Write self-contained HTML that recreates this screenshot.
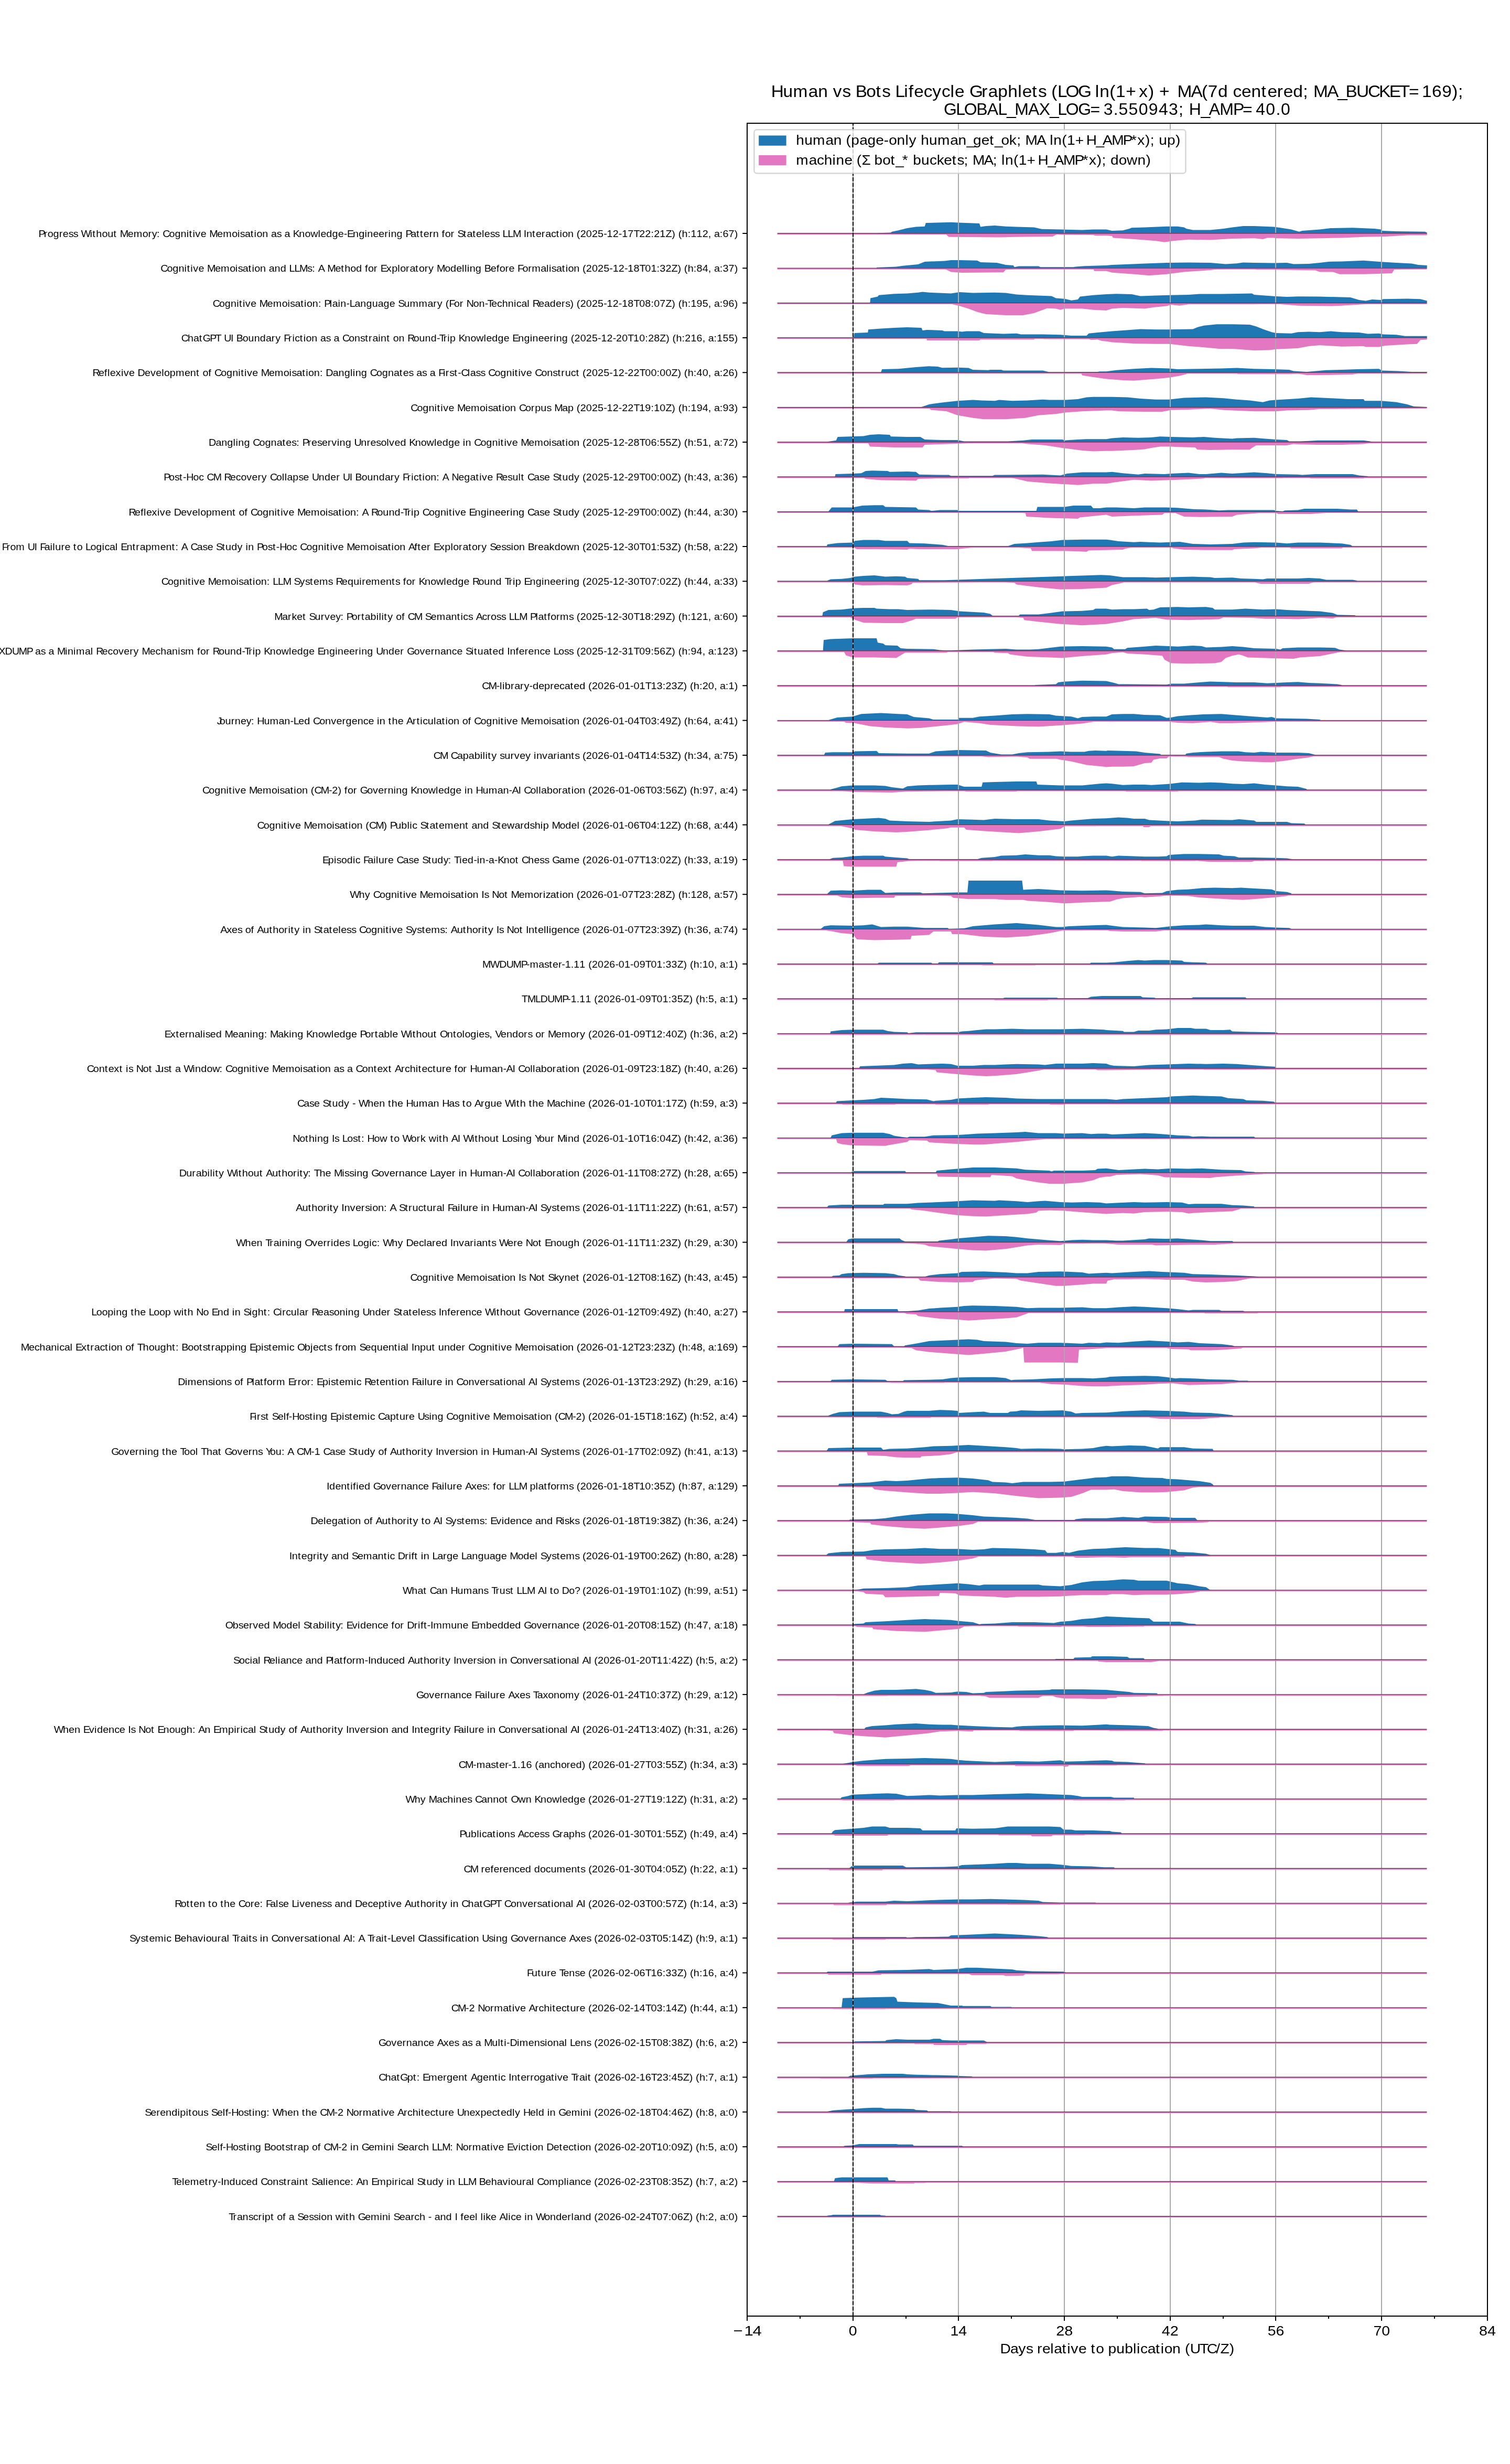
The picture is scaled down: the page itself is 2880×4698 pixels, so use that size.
<!DOCTYPE html>
<html><head><meta charset="utf-8"><title>Human vs Bots Lifecycle Graphlets</title>
<style>html,body{margin:0;padding:0;background:#fff;}svg text{-webkit-font-smoothing:antialiased;}body{width:2880px;height:4698px;overflow:hidden;font-family:"Liberation Sans",sans-serif;}svg{display:block;will-change:transform;}</style>
</head><body><svg width="2880" height="4698" viewBox="0 0 2880 4698" font-family="Liberation Sans, sans-serif"><rect width="100%" height="100%" fill="#fff"/><g><path d="M1674.0,445.0L1674.0,445.0L1674.0,444.2L1699.0,443.4L1701.1,441.7L1713.6,439.2L1730.3,435.0L1747.0,432.5L1763.7,431.7L1765.8,425.0L1813.8,423.8L1828.4,424.6L1868.0,425.9L1870.1,432.5L1880.5,430.9L1897.2,430.0L1918.1,431.7L1938.9,432.5L1972.3,433.4L1986.9,436.7L2022.4,437.5L2064.1,438.4L2085.0,437.5L2110.0,437.5L2120.9,440.1L2141.7,439.2L2154.2,435.9L2158.4,434.2L2183.4,433.4L2225.2,431.7L2246.0,431.7L2258.5,433.4L2262.7,435.9L2275.2,438.4L2308.6,438.4L2333.6,435.9L2350.3,433.4L2371.2,430.9L2392.1,430.9L2429.6,432.5L2442.1,434.2L2463.0,437.5L2477.6,441.7L2483.8,440.1L2517.2,437.5L2538.1,435.0L2579.8,434.2L2621.5,435.9L2634.0,437.5L2636.1,440.1L2663.2,440.9L2717.5,441.7L2721.7,443.4L2721.7,445.0L2721.7,445.0Z" fill="#1f77b4"/><path d="M1803.3,445.0L1803.3,445.0L1803.3,445.9L1809.6,451.7L1905.6,452.6L1938.9,451.7L2007.8,450.9L2016.1,446.7L2022.4,447.6L2085.0,448.0L2089.1,449.2L2110.0,449.2L2120.9,450.1L2123.0,453.4L2162.6,455.9L2204.3,459.2L2221.0,461.7L2237.7,459.2L2266.9,456.7L2308.6,457.6L2350.3,455.1L2392.1,454.2L2408.7,455.9L2417.1,453.4L2429.6,453.4L2433.8,454.2L2475.5,455.1L2517.2,454.2L2558.9,453.4L2600.7,451.7L2642.4,450.9L2684.1,448.4L2721.7,448.4L2721.7,445.0L2721.7,445.0Z" fill="#e377c2"/><path d="M1671.9,511.3L1671.9,511.3L1671.9,510.1L1709.5,508.5L1722.0,506.8L1751.2,503.9L1763.7,498.9L1801.3,497.6L1813.8,495.9L1830.5,495.9L1863.8,496.8L1870.1,500.1L1901.4,501.0L1918.1,505.1L1932.7,506.0L1934.8,509.3L1943.1,507.6L1980.7,507.6L1984.8,509.3L2047.4,509.3L2051.6,508.5L2068.3,507.2L2110.0,506.0L2120.9,505.1L2141.7,504.3L2183.4,502.6L2225.2,501.0L2266.9,500.5L2308.6,501.0L2337.8,503.5L2358.7,502.2L2371.2,500.5L2392.1,501.0L2429.6,501.4L2454.6,501.0L2467.2,503.5L2496.4,503.1L2517.2,501.0L2533.9,498.9L2558.9,498.5L2600.7,496.8L2634.0,499.3L2663.2,501.0L2692.5,502.6L2705.0,505.1L2721.7,506.0L2721.7,511.3L2721.7,511.3Z" fill="#1f77b4"/><path d="M1801.3,511.3L1801.3,511.3L1801.3,512.6L1813.8,518.5L1834.6,520.1L1913.9,519.3L1918.1,514.3L1932.7,513.5L1934.8,511.8L2085.0,512.2L2087.1,516.8L2110.0,516.8L2120.9,519.7L2162.6,522.7L2191.8,525.2L2225.2,522.7L2258.5,518.5L2308.6,515.1L2321.1,513.5L2392.1,512.6L2396.2,514.3L2433.8,514.3L2508.9,515.6L2517.2,518.5L2542.3,518.5L2554.8,522.7L2600.7,522.7L2634.0,521.8L2654.9,521.0L2659.1,514.3L2721.7,512.6L2721.7,511.3L2721.7,511.3Z" fill="#e377c2"/><path d="M1659.4,577.7L1659.4,577.7L1659.4,576.9L1660.2,568.5L1674.0,565.6L1676.1,562.7L1705.3,560.2L1730.3,559.4L1751.2,557.7L1759.5,556.4L1772.1,557.7L1813.8,559.4L1830.5,556.9L1855.5,558.5L1897.2,557.7L1918.1,558.5L1938.9,561.5L1959.8,562.7L2005.7,564.4L2014.0,568.5L2030.7,569.8L2043.2,572.7L2055.8,571.0L2059.9,565.6L2085.0,562.7L2110.0,561.0L2129.2,560.2L2158.4,561.0L2175.1,564.4L2204.3,563.5L2229.3,562.7L2266.9,561.9L2287.7,560.6L2329.5,560.6L2387.9,559.4L2392.1,561.9L2429.6,564.8L2454.6,566.0L2475.5,565.2L2517.2,565.6L2575.6,566.9L2592.3,571.9L2604.8,573.6L2617.3,571.0L2634.0,571.9L2638.2,570.2L2684.1,569.4L2709.1,570.2L2721.7,573.6L2721.7,577.7L2721.7,577.7Z" fill="#1f77b4"/><path d="M1813.8,577.7L1813.8,577.7L1813.8,579.4L1830.5,583.6L1847.2,588.6L1863.8,594.8L1880.5,599.0L1918.1,601.1L1951.5,601.1L1972.3,596.9L1997.4,587.7L2014.0,588.6L2022.4,590.7L2030.7,588.6L2064.1,588.6L2085.0,590.7L2110.0,591.9L2120.9,588.6L2141.7,586.9L2183.4,588.6L2200.1,586.1L2225.2,583.6L2233.5,581.1L2241.8,581.9L2250.2,582.7L2266.9,580.2L2392.1,580.2L2433.8,579.4L2454.6,581.1L2475.5,582.7L2538.1,583.6L2558.9,582.7L2600.7,580.2L2621.5,579.4L2642.4,578.6L2721.7,578.6L2721.7,577.7L2721.7,577.7Z" fill="#e377c2"/><path d="M1628.1,644.0L1628.1,644.0L1628.1,643.2L1629.4,634.9L1655.2,634.0L1656.1,628.2L1680.3,626.5L1705.3,624.9L1730.3,624.0L1757.5,624.9L1759.5,629.9L1767.9,629.0L1797.1,629.9L1801.3,631.5L1826.3,631.5L1834.6,632.4L1843.0,631.5L1868.0,631.5L1876.4,634.9L1913.9,636.5L1938.9,635.7L1947.3,637.4L1989.0,637.4L2022.4,638.2L2043.2,639.9L2072.4,639.9L2076.6,635.7L2093.3,634.0L2110.0,632.4L2120.9,631.5L2141.7,629.9L2175.1,627.4L2204.3,628.2L2229.3,628.2L2275.2,627.4L2283.6,624.0L2296.1,620.7L2321.1,618.2L2350.3,618.2L2383.7,619.0L2396.2,622.4L2408.7,627.4L2425.4,633.2L2433.8,634.9L2463.0,635.7L2475.5,633.2L2496.4,632.4L2517.2,633.2L2538.1,631.5L2558.9,633.2L2592.3,634.0L2609.0,636.5L2629.9,635.7L2638.2,637.4L2663.2,638.2L2679.9,640.7L2721.7,640.7L2721.7,644.0L2721.7,644.0Z" fill="#1f77b4"/><path d="M1767.0,644.0L1767.0,644.0L1767.0,644.9L1767.9,649.1L1868.0,649.1L1870.1,647.4L1972.3,647.4L1974.4,644.9L1989.0,644.9L1991.1,646.6L2076.6,646.6L2080.8,648.2L2093.3,647.4L2101.7,649.9L2110.0,650.7L2120.9,652.4L2162.6,654.9L2204.3,655.7L2229.3,655.7L2246.0,657.4L2266.9,659.9L2287.7,661.6L2325.3,664.9L2350.3,664.9L2371.2,666.6L2392.1,668.2L2421.3,667.4L2433.8,665.8L2475.5,664.1L2496.4,659.9L2517.2,658.2L2558.9,660.7L2600.7,659.9L2604.8,661.6L2629.9,661.6L2642.4,659.1L2684.1,656.6L2702.9,655.7L2709.1,648.2L2721.7,647.4L2721.7,644.0L2721.7,644.0Z" fill="#e377c2"/><path d="M1680.3,710.3L1680.3,710.3L1680.3,709.6L1682.3,704.1L1713.6,703.3L1747.0,700.0L1772.1,698.3L1788.7,699.1L1797.1,701.2L1826.3,700.8L1847.2,701.6L1855.5,705.0L1884.7,705.8L1888.9,705.0L1909.7,705.0L1913.9,706.6L1989.0,706.6L2001.5,709.6L2093.3,709.1L2097.5,708.3L2110.0,708.3L2129.2,705.8L2162.6,703.3L2196.0,701.6L2229.3,702.5L2246.0,704.1L2287.7,703.3L2329.5,702.5L2358.7,701.6L2392.1,703.3L2429.6,704.1L2458.8,705.0L2467.2,707.5L2492.2,709.1L2529.7,705.8L2558.9,705.0L2588.1,704.1L2629.9,703.3L2636.1,706.6L2667.4,707.5L2692.5,709.1L2721.7,709.1L2721.7,710.3L2721.7,710.3Z" fill="#1f77b4"/><path d="M2062.0,710.3L2062.0,710.3L2062.0,711.6L2064.1,715.8L2085.0,719.1L2110.0,722.5L2141.7,725.0L2162.6,725.8L2204.3,722.5L2229.3,720.0L2250.2,716.6L2262.7,713.3L2264.8,710.8L2358.7,711.6L2360.8,713.3L2458.8,713.3L2475.5,712.5L2492.2,715.0L2517.2,715.0L2579.8,714.1L2592.3,711.6L2721.7,711.6L2721.7,710.3L2721.7,710.3Z" fill="#e377c2"/><path d="M1757.5,776.6L1757.5,776.6L1757.5,775.9L1772.1,770.9L1797.1,767.5L1826.3,764.2L1855.5,762.5L1872.2,763.4L1897.2,764.2L1905.6,762.5L1930.6,764.2L1959.8,763.4L1989.0,761.7L2001.5,762.5L2030.7,762.5L2055.8,760.9L2072.4,757.5L2085.0,756.7L2110.0,756.7L2120.9,756.7L2150.1,757.5L2175.1,760.0L2204.3,761.7L2229.3,761.7L2258.5,758.4L2300.3,757.5L2333.6,759.2L2358.7,761.7L2383.7,763.4L2408.7,766.7L2421.3,763.4L2433.8,762.5L2475.5,760.0L2500.5,757.5L2538.1,759.2L2571.5,760.9L2600.7,760.9L2602.8,764.2L2634.0,764.2L2663.2,766.7L2684.1,770.9L2696.6,775.1L2721.7,775.9L2721.7,776.6L2721.7,776.6Z" fill="#1f77b4"/><path d="M1772.1,776.6L1772.1,776.6L1772.1,778.4L1776.2,781.7L1805.4,784.2L1826.3,791.8L1855.5,796.8L1876.4,799.3L1918.1,799.3L1955.6,796.8L1980.7,791.8L2014.0,789.2L2030.7,786.7L2064.1,784.2L2110.0,782.6L2120.9,782.6L2133.4,784.2L2183.4,785.1L2216.8,785.1L2233.5,781.7L2266.9,780.9L2308.6,779.2L2333.6,781.7L2350.3,782.6L2392.1,784.2L2433.8,784.2L2454.6,782.6L2496.4,781.7L2517.2,780.1L2621.5,779.2L2642.4,778.4L2721.7,777.6L2721.7,776.6L2721.7,776.6Z" fill="#e377c2"/><path d="M1578.1,843.0L1578.1,843.0L1578.1,842.2L1594.7,839.7L1597.7,833.0L1621.9,832.2L1646.9,831.4L1659.4,828.9L1676.1,828.0L1697.0,828.9L1699.0,832.2L1730.3,833.0L1755.4,833.0L1763.7,838.1L1797.1,838.9L1826.3,838.9L1838.8,841.4L1905.6,841.4L1922.2,841.4L1951.5,839.7L1968.1,838.1L2026.6,838.1L2030.7,839.7L2055.8,838.1L2072.4,837.2L2110.0,837.2L2120.9,835.5L2141.7,833.9L2170.9,834.7L2196.0,833.9L2212.7,832.2L2233.5,833.0L2275.2,833.9L2296.1,833.0L2317.0,834.7L2350.3,836.4L2358.7,835.5L2392.1,834.7L2412.9,836.4L2433.8,838.1L2454.6,838.9L2458.8,841.4L2479.7,841.4L2500.5,840.6L2513.1,839.7L2600.7,839.7L2613.2,841.4L2617.3,842.6L2617.3,843.0L2617.3,843.0Z" fill="#1f77b4"/><path d="M1655.2,843.0L1655.2,843.0L1655.2,843.9L1659.4,851.4L1705.3,853.1L1747.0,853.1L1759.5,853.1L1763.7,848.1L1809.6,846.4L1838.8,845.6L1855.5,844.7L1947.3,844.7L1959.8,846.4L1993.2,848.9L2030.7,854.7L2064.1,858.9L2085.0,860.6L2110.0,859.7L2120.9,859.7L2162.6,858.1L2183.4,856.4L2196.0,853.9L2212.7,851.4L2233.5,851.4L2246.0,852.2L2279.4,853.1L2283.6,857.2L2308.6,858.1L2350.3,857.2L2383.7,857.2L2387.9,853.9L2396.2,848.9L2433.8,848.9L2454.6,848.9L2467.2,846.4L2479.7,847.2L2513.1,848.1L2558.9,848.1L2600.7,846.4L2617.3,843.9L2617.3,843.0L2617.3,843.0Z" fill="#e377c2"/><path d="M1592.6,909.3L1592.6,909.3L1592.6,908.1L1593.5,904.0L1626.0,903.1L1642.7,902.3L1651.1,898.1L1663.6,897.3L1692.8,898.1L1697.0,899.8L1730.3,899.0L1747.0,899.8L1753.3,904.8L1797.1,905.6L1809.6,905.6L1813.8,907.3L1893.0,907.3L1897.2,905.6L1913.9,905.6L1989.0,904.8L2022.4,906.5L2034.9,903.1L2064.1,900.6L2110.0,900.6L2120.9,899.8L2141.7,902.3L2170.9,904.8L2183.4,903.1L2221.0,904.0L2233.5,903.1L2266.9,901.5L2287.7,904.0L2300.3,904.0L2329.5,901.5L2350.3,903.1L2392.1,900.6L2417.1,902.3L2433.8,904.0L2475.5,904.8L2483.8,905.6L2508.9,904.0L2579.8,904.0L2592.3,906.5L2609.0,908.1L2609.0,909.3L2609.0,909.3Z" fill="#1f77b4"/><path d="M1646.9,909.3L1646.9,909.3L1646.9,910.6L1651.1,913.1L1680.3,915.6L1747.0,916.5L1751.2,913.1L1784.6,912.3L1847.2,912.3L1849.2,910.6L1926.4,910.6L1938.9,913.1L1959.8,918.1L2001.5,921.5L2055.8,924.8L2085.0,922.3L2110.0,922.3L2125.0,919.8L2162.6,914.8L2196.0,916.5L2225.2,915.6L2266.9,914.0L2296.1,912.3L2300.3,910.6L2342.0,911.5L2446.3,911.5L2450.5,910.6L2496.4,910.6L2500.5,912.3L2600.7,912.3L2602.8,910.6L2602.8,909.3L2602.8,909.3Z" fill="#e377c2"/><path d="M1580.1,975.6L1580.1,975.6L1580.1,974.9L1586.4,967.4L1626.0,967.4L1644.8,964.0L1667.8,963.2L1684.4,963.2L1688.6,966.5L1747.0,967.4L1751.2,971.6L1772.1,972.4L1776.2,974.1L1792.9,972.4L1826.3,972.4L1828.4,974.1L1897.2,974.1L1976.5,974.1L1978.6,966.5L2030.7,966.5L2047.4,964.0L2080.8,964.0L2085.0,969.0L2097.5,969.0L2110.0,967.4L2129.2,967.4L2162.6,969.0L2183.4,967.4L2225.2,967.4L2246.0,968.2L2275.2,970.7L2300.3,971.6L2325.3,973.2L2342.0,972.4L2429.6,972.4L2433.8,974.1L2446.3,974.9L2450.5,973.2L2475.5,972.4L2488.0,969.9L2550.6,969.9L2575.6,971.6L2588.1,971.6L2590.2,974.9L2590.2,975.6L2590.2,975.6Z" fill="#1f77b4"/><path d="M1930.6,975.6L1930.6,975.6L1930.6,977.4L1955.6,978.2L1957.7,984.9L2001.5,987.4L2055.8,989.1L2059.9,986.6L2085.0,984.1L2110.0,981.6L2120.9,984.9L2162.6,983.2L2216.8,981.6L2221.0,978.2L2241.8,978.2L2258.5,984.9L2287.7,985.7L2350.3,984.9L2358.7,981.6L2400.4,978.2L2433.8,978.2L2437.9,979.9L2500.5,979.9L2533.9,977.4L2558.9,976.6L2588.1,976.6L2588.1,975.6L2588.1,975.6Z" fill="#e377c2"/><path d="M1576.8,1042.0L1576.8,1042.0L1576.8,1041.2L1578.1,1037.9L1596.8,1035.4L1626.0,1034.5L1630.2,1031.2L1646.9,1029.5L1676.1,1029.5L1688.6,1031.2L1709.5,1031.2L1730.3,1031.2L1734.5,1035.4L1763.7,1036.2L1797.1,1038.7L1809.6,1041.2L1922.2,1041.2L1934.8,1037.0L1959.8,1035.4L1980.7,1033.7L2005.7,1032.0L2026.6,1029.5L2064.1,1028.7L2110.0,1028.7L2116.7,1029.5L2133.4,1032.0L2162.6,1033.7L2175.1,1032.9L2191.8,1033.7L2212.7,1034.5L2250.2,1032.9L2275.2,1037.0L2308.6,1037.9L2350.3,1037.0L2371.2,1034.5L2392.1,1033.7L2433.8,1034.5L2454.6,1036.2L2475.5,1034.5L2517.2,1034.5L2558.9,1036.2L2575.6,1038.7L2579.8,1041.6L2579.8,1042.0L2579.8,1042.0Z" fill="#1f77b4"/><path d="M1626.0,1042.0L1626.0,1042.0L1626.0,1042.9L1634.4,1047.1L1667.8,1047.1L1730.3,1047.9L1734.5,1046.2L1751.2,1047.1L1813.8,1047.1L1826.3,1047.1L1855.5,1043.7L1922.2,1042.9L1938.9,1043.7L1966.1,1045.4L1968.1,1050.4L2026.6,1050.4L2055.8,1051.2L2072.4,1052.1L2076.6,1049.6L2110.0,1048.7L2141.7,1047.9L2145.9,1046.2L2158.4,1043.7L2233.5,1042.9L2237.7,1045.4L2258.5,1047.9L2300.3,1048.7L2350.3,1048.7L2354.5,1047.1L2392.1,1045.4L2408.7,1043.7L2458.8,1043.7L2463.0,1045.4L2558.9,1045.4L2563.1,1042.9L2563.1,1042.0L2563.1,1042.0Z" fill="#e377c2"/><path d="M1578.1,1108.3L1578.1,1108.3L1578.1,1107.1L1584.3,1104.6L1605.2,1103.8L1621.9,1102.1L1630.2,1099.6L1646.9,1098.0L1667.8,1097.1L1688.6,1099.6L1709.5,1098.8L1726.2,1099.6L1730.3,1102.1L1751.2,1103.8L1753.3,1106.3L1801.3,1106.3L2100.0,1096.3L2116.7,1097.1L2141.7,1100.5L2183.4,1100.5L2204.3,1101.3L2233.5,1100.5L2275.2,1099.6L2308.6,1100.5L2317.0,1102.1L2350.3,1101.3L2367.0,1103.0L2392.1,1103.8L2408.7,1104.6L2417.1,1103.0L2475.5,1103.0L2496.4,1102.1L2517.2,1103.0L2529.7,1105.5L2579.8,1105.5L2588.1,1107.1L2588.1,1108.3L2588.1,1108.3Z" fill="#1f77b4"/><path d="M1626.0,1108.3L1626.0,1108.3L1626.0,1109.6L1630.2,1114.6L1646.9,1116.3L1688.6,1115.5L1730.3,1116.3L1738.7,1113.8L1740.8,1111.3L1909.7,1109.6L1934.8,1111.3L1938.9,1114.6L1980.7,1119.7L2022.4,1123.8L2064.1,1123.0L2110.0,1120.5L2120.9,1115.5L2141.7,1111.3L2143.8,1109.6L2392.1,1109.6L2396.2,1111.3L2404.6,1113.0L2496.4,1113.0L2504.7,1110.5L2513.1,1109.6L2513.1,1108.3L2513.1,1108.3Z" fill="#e377c2"/><path d="M1568.4,1174.6L1568.4,1174.6L1568.4,1173.9L1569.7,1167.2L1580.1,1163.1L1605.2,1162.2L1626.0,1159.7L1646.9,1158.9L1667.8,1158.9L1671.9,1160.5L1697.0,1161.4L1713.6,1161.4L1730.3,1163.1L1772.1,1162.2L1813.8,1163.1L1830.5,1165.6L1876.4,1168.1L1888.9,1170.6L1893.0,1173.9L1943.1,1173.9L1945.2,1171.4L1980.7,1171.4L2001.5,1168.9L2026.6,1165.6L2064.1,1164.7L2085.0,1163.1L2089.1,1160.5L2110.0,1160.5L2120.9,1162.2L2141.7,1161.4L2162.6,1161.4L2187.6,1160.5L2191.8,1163.1L2200.1,1162.2L2212.7,1158.0L2246.0,1157.2L2266.9,1158.0L2300.3,1157.2L2312.8,1158.9L2317.0,1162.2L2350.3,1162.2L2375.4,1160.5L2408.7,1162.2L2433.8,1161.4L2454.6,1163.1L2496.4,1164.7L2517.2,1165.6L2542.3,1168.9L2550.6,1172.2L2584.0,1173.1L2586.1,1174.6L2586.1,1174.6L2586.1,1174.6Z" fill="#1f77b4"/><path d="M1621.9,1174.6L1621.9,1174.6L1621.9,1177.2L1630.2,1181.4L1646.9,1187.2L1688.6,1188.1L1722.0,1188.1L1738.7,1183.1L1747.0,1179.7L1822.1,1179.7L1826.3,1177.2L1838.8,1176.4L1930.6,1176.4L1951.5,1178.1L1953.5,1182.2L1980.7,1185.6L2022.4,1189.8L2064.1,1192.2L2110.0,1189.8L2120.9,1188.1L2141.7,1184.7L2162.6,1180.6L2204.3,1178.1L2225.2,1181.4L2266.9,1182.2L2325.3,1180.6L2333.6,1177.2L2387.9,1178.1L2412.9,1179.7L2433.8,1179.7L2475.5,1180.6L2492.2,1179.7L2517.2,1178.1L2542.3,1178.9L2550.6,1176.4L2575.6,1176.4L2575.6,1174.6L2575.6,1174.6Z" fill="#e377c2"/><path d="M1569.7,1241.0L1569.7,1241.0L1569.7,1240.2L1571.0,1220.2L1584.3,1218.5L1605.2,1217.7L1626.0,1216.9L1671.9,1216.9L1674.0,1225.2L1684.4,1226.9L1688.6,1230.2L1711.6,1231.0L1717.8,1236.0L1730.3,1236.9L1780.4,1237.7L1792.9,1239.4L1805.4,1240.2L1830.5,1239.4L1855.5,1238.5L1918.1,1236.9L1938.9,1238.5L1964.0,1238.5L1980.7,1237.7L2001.5,1235.2L2022.4,1232.7L2064.1,1231.9L2110.0,1232.7L2120.9,1234.4L2125.0,1237.7L2145.9,1237.7L2150.1,1235.2L2183.4,1232.7L2204.3,1231.0L2229.3,1231.9L2246.0,1232.7L2275.2,1231.0L2291.9,1231.9L2300.3,1234.4L2329.5,1233.5L2350.3,1231.9L2371.2,1233.5L2392.1,1236.0L2433.8,1236.9L2442.1,1238.5L2446.3,1236.0L2475.5,1234.4L2517.2,1234.4L2546.4,1235.2L2554.8,1238.5L2567.3,1240.2L2567.3,1241.0L2567.3,1241.0Z" fill="#1f77b4"/><path d="M1609.3,1241.0L1609.3,1241.0L1609.3,1241.9L1613.5,1249.4L1626.0,1253.6L1667.8,1253.6L1709.5,1254.4L1717.8,1249.4L1726.2,1244.4L1805.4,1244.4L1809.6,1241.9L1893.0,1241.9L1897.2,1244.4L1922.2,1245.2L1926.4,1247.7L1959.8,1251.9L2001.5,1253.6L2026.6,1254.4L2064.1,1251.1L2110.0,1247.7L2120.9,1245.2L2141.7,1243.6L2150.1,1246.1L2183.4,1247.7L2216.8,1250.2L2221.0,1257.7L2233.5,1264.4L2266.9,1265.2L2317.0,1264.4L2329.5,1261.9L2337.8,1254.4L2350.3,1250.2L2362.9,1247.7L2371.2,1250.2L2379.5,1253.6L2412.9,1254.4L2433.8,1255.2L2467.2,1256.1L2479.7,1253.6L2517.2,1251.1L2533.9,1247.7L2554.8,1243.6L2567.3,1241.9L2567.3,1241.0L2567.3,1241.0Z" fill="#e377c2"/><path d="M1974.4,1307.3L1974.4,1307.3L1974.4,1306.1L2014.0,1304.5L2018.2,1301.1L2030.7,1299.5L2064.1,1297.8L2110.0,1298.6L2125.0,1302.0L2133.4,1304.5L2150.1,1304.5L2225.2,1305.3L2233.5,1303.6L2258.5,1303.6L2287.7,1301.1L2308.6,1299.5L2333.6,1300.3L2358.7,1301.1L2392.1,1301.1L2417.1,1302.8L2433.8,1302.0L2454.6,1301.1L2475.5,1300.3L2496.4,1302.0L2517.2,1302.8L2550.6,1304.5L2558.9,1306.1L2558.9,1307.3L2558.9,1307.3Z" fill="#1f77b4"/><path d="M2339.9,1307.3L2339.9,1307.3L2339.9,1308.6L2342.0,1310.3L2442.1,1310.3L2444.2,1308.6L2444.2,1307.3L2444.2,1307.3Z" fill="#e377c2"/><path d="M1580.1,1373.6L1580.1,1373.6L1580.1,1372.9L1596.8,1367.9L1626.0,1366.2L1642.7,1361.2L1680.3,1359.5L1713.6,1361.2L1730.3,1362.0L1742.8,1367.0L1772.1,1369.6L1780.4,1372.1L1826.3,1372.1L1828.4,1368.7L1855.5,1368.7L1868.0,1366.2L1897.2,1364.5L1930.6,1362.0L1959.8,1361.2L2001.5,1362.0L2014.0,1364.5L2043.2,1366.2L2055.8,1369.6L2064.1,1367.0L2085.0,1366.2L2110.0,1366.2L2120.9,1362.0L2141.7,1361.2L2162.6,1361.2L2183.4,1362.9L2212.7,1363.7L2225.2,1368.7L2233.5,1367.9L2246.0,1365.4L2266.9,1363.7L2296.1,1362.0L2329.5,1361.2L2350.3,1362.9L2392.1,1366.2L2417.1,1367.9L2425.4,1367.0L2433.8,1369.6L2492.2,1370.4L2517.2,1372.1L2519.3,1373.6L2519.3,1373.6L2519.3,1373.6Z" fill="#1f77b4"/><path d="M1609.3,1373.6L1609.3,1373.6L1609.3,1375.4L1613.5,1377.9L1630.2,1378.7L1659.4,1384.6L1688.6,1387.1L1730.3,1388.8L1755.4,1387.9L1780.4,1385.4L1805.4,1382.9L1826.3,1380.4L1838.8,1376.2L1868.0,1378.7L1888.9,1382.1L1938.9,1384.6L1980.7,1385.4L2022.4,1382.9L2064.1,1379.6L2085.0,1376.2L2110.0,1375.4L2116.7,1376.2L2166.8,1375.4L2225.2,1375.4L2246.0,1377.9L2275.2,1378.7L2308.6,1376.2L2325.3,1378.7L2350.3,1378.7L2425.4,1376.2L2433.8,1375.4L2433.8,1373.6L2433.8,1373.6Z" fill="#e377c2"/><path d="M1571.8,1439.9L1571.8,1439.9L1571.8,1439.2L1573.9,1435.0L1588.5,1434.2L1626.0,1434.2L1630.2,1432.5L1671.9,1431.7L1676.1,1435.9L1730.3,1436.7L1772.1,1436.7L1784.6,1432.5L1809.6,1430.9L1826.3,1430.0L1880.5,1430.9L1888.9,1435.0L1909.7,1438.4L1930.6,1438.4L1943.1,1435.9L1959.8,1434.2L2001.5,1433.4L2022.4,1432.5L2043.2,1433.4L2068.3,1433.4L2076.6,1431.7L2089.1,1430.9L2110.0,1431.7L2112.5,1430.9L2141.7,1431.7L2166.8,1432.5L2183.4,1435.0L2212.7,1437.5L2214.7,1439.6L2260.6,1439.6L2262.7,1436.7L2275.2,1435.0L2300.3,1433.4L2329.5,1432.5L2362.9,1432.5L2375.4,1434.2L2392.1,1435.0L2404.6,1433.4L2433.8,1435.0L2475.5,1435.0L2496.4,1435.9L2508.9,1439.2L2508.9,1439.9L2508.9,1439.9Z" fill="#1f77b4"/><path d="M1863.8,1439.9L1863.8,1439.9L1863.8,1440.9L1884.7,1443.4L1938.9,1442.6L1959.8,1444.2L1964.0,1446.7L2014.0,1446.7L2022.4,1448.4L2043.2,1451.7L2072.4,1458.4L2105.8,1461.7L2110.0,1462.6L2120.9,1461.7L2141.7,1461.7L2162.6,1460.9L2175.1,1457.6L2183.4,1455.1L2196.0,1454.2L2200.1,1448.4L2212.7,1445.9L2225.2,1445.9L2229.3,1442.6L2262.7,1442.6L2266.9,1443.4L2325.3,1443.4L2333.6,1446.7L2350.3,1450.1L2371.2,1451.7L2392.1,1452.6L2425.4,1453.4L2433.8,1452.6L2454.6,1450.1L2475.5,1446.7L2496.4,1444.2L2508.9,1440.9L2508.9,1439.9L2508.9,1439.9Z" fill="#e377c2"/><path d="M1584.3,1506.3L1584.3,1506.3L1584.3,1505.1L1596.8,1501.8L1605.2,1499.3L1626.0,1497.6L1667.8,1497.6L1688.6,1498.5L1701.1,1501.0L1722.0,1503.5L1730.3,1499.3L1751.2,1497.6L1772.1,1496.8L1813.8,1496.0L1826.3,1496.0L1838.8,1500.1L1872.2,1500.1L1874.3,1491.8L1897.2,1491.0L1938.9,1490.1L1976.5,1490.1L1978.6,1496.0L2022.4,1497.6L2064.1,1497.6L2097.5,1494.3L2110.0,1493.5L2120.9,1494.3L2141.7,1496.8L2162.6,1496.0L2183.4,1496.0L2196.0,1496.8L2225.2,1495.1L2233.5,1494.3L2254.4,1491.8L2287.7,1492.6L2308.6,1491.8L2329.5,1492.6L2350.3,1494.3L2371.2,1495.1L2392.1,1493.5L2412.9,1496.0L2433.8,1497.6L2454.6,1499.3L2475.5,1500.1L2492.2,1504.3L2492.2,1506.3L2492.2,1506.3Z" fill="#1f77b4"/><path d="M1601.0,1506.3L1601.0,1506.3L1601.0,1507.6L1626.0,1510.1L1701.1,1511.0L1730.3,1509.3L1838.8,1507.6L1843.0,1509.3L1938.9,1509.3L1941.0,1507.6L2145.9,1507.6L2148.0,1509.3L2246.0,1509.3L2248.1,1507.6L2248.1,1506.3L2248.1,1506.3Z" fill="#e377c2"/><path d="M1580.1,1572.6L1580.1,1572.6L1580.1,1571.9L1592.6,1565.2L1626.0,1561.9L1646.9,1561.0L1676.1,1559.4L1688.6,1561.0L1697.0,1564.4L1730.3,1566.0L1772.1,1566.9L1813.8,1564.4L1826.3,1561.9L1855.5,1562.7L1876.4,1563.5L1897.2,1561.0L1938.9,1561.9L1980.7,1561.9L2001.5,1564.4L2030.7,1566.0L2043.2,1564.4L2085.0,1561.0L2110.0,1560.2L2133.4,1558.5L2150.1,1559.4L2162.6,1561.0L2183.4,1561.0L2191.8,1563.5L2225.2,1565.2L2246.0,1566.0L2279.4,1564.4L2291.9,1562.7L2350.3,1563.5L2362.9,1561.9L2392.1,1564.4L2396.2,1566.9L2454.6,1566.9L2463.0,1569.4L2488.0,1570.2L2490.1,1572.6L2490.1,1572.6L2490.1,1572.6Z" fill="#1f77b4"/><path d="M1601.0,1572.6L1601.0,1572.6L1601.0,1574.4L1626.0,1579.4L1630.2,1581.9L1667.8,1585.2L1709.5,1586.9L1730.3,1586.1L1772.1,1582.7L1805.4,1579.4L1813.8,1577.7L1838.8,1577.7L1843.0,1581.9L1876.4,1584.4L1918.1,1586.9L1943.1,1588.6L1980.7,1585.2L2022.4,1580.2L2030.7,1575.2L2089.1,1575.2L2093.3,1574.4L2110.0,1574.4L2179.3,1574.4L2181.4,1576.9L2191.8,1576.9L2196.0,1574.4L2392.1,1574.4L2392.1,1572.6L2392.1,1572.6Z" fill="#e377c2"/><path d="M1582.2,1638.9L1582.2,1638.9L1582.2,1638.2L1588.5,1635.7L1605.2,1634.9L1626.0,1632.4L1646.9,1631.5L1684.4,1631.5L1688.6,1633.2L1709.5,1634.9L1730.3,1636.5L1734.5,1638.2L1863.8,1638.2L1872.2,1635.7L1897.2,1634.0L1909.7,1631.5L1938.9,1630.7L1955.6,1629.0L1980.7,1630.7L2001.5,1630.7L2014.0,1632.4L2030.7,1633.2L2055.8,1633.2L2064.1,1632.4L2085.0,1631.5L2110.0,1631.5L2120.9,1633.2L2133.4,1631.5L2162.6,1632.4L2183.4,1633.2L2208.5,1633.2L2225.2,1632.4L2229.3,1629.9L2258.5,1628.2L2287.7,1628.2L2325.3,1629.0L2333.6,1631.5L2354.5,1632.4L2362.9,1634.9L2392.1,1634.9L2433.8,1635.7L2454.6,1636.5L2465.1,1638.2L2465.1,1638.9L2465.1,1638.9Z" fill="#1f77b4"/><path d="M1607.3,1638.9L1607.3,1638.9L1607.3,1639.9L1609.3,1651.6L1626.0,1652.4L1667.8,1652.4L1709.5,1652.4L1711.6,1644.1L1734.5,1641.6L1790.8,1639.9L1792.9,1641.6L1893.0,1641.6L1895.1,1639.9L2175.1,1639.9L2177.2,1641.6L2279.4,1641.6L2283.6,1639.9L2285.7,1641.6L2308.6,1643.2L2387.9,1643.2L2392.1,1641.6L2410.8,1641.6L2412.9,1639.9L2412.9,1638.9L2412.9,1638.9Z" fill="#e377c2"/><path d="M1578.1,1705.3L1578.1,1705.3L1578.1,1704.1L1584.3,1698.3L1605.2,1697.5L1626.0,1698.3L1655.2,1696.6L1680.3,1696.6L1688.6,1702.5L1709.5,1701.6L1755.4,1701.6L1759.5,1703.3L1826.3,1701.6L1845.1,1701.6L1847.2,1679.1L1949.4,1679.1L1951.5,1696.6L1980.7,1695.0L2022.4,1697.5L2064.1,1698.3L2110.0,1697.5L2120.9,1698.3L2141.7,1700.0L2175.1,1700.8L2183.4,1703.3L2216.8,1702.5L2225.2,1699.1L2246.0,1696.6L2266.9,1695.8L2291.9,1693.3L2317.0,1692.5L2350.3,1693.3L2367.0,1692.5L2392.1,1694.1L2425.4,1695.8L2433.8,1699.1L2454.6,1700.8L2463.0,1703.3L2463.0,1705.3L2463.0,1705.3Z" fill="#1f77b4"/><path d="M1594.7,1705.3L1594.7,1705.3L1594.7,1706.6L1605.2,1710.8L1626.0,1712.5L1667.8,1711.7L1705.3,1711.7L1707.4,1708.3L1784.6,1707.5L1813.8,1708.3L1818.0,1711.7L1847.2,1714.2L1897.2,1714.2L1918.1,1715.8L1951.5,1715.8L1959.8,1717.5L2001.5,1720.0L2030.7,1722.5L2064.1,1720.8L2110.0,1719.2L2116.7,1719.2L2129.2,1715.0L2141.7,1712.5L2175.1,1710.0L2183.4,1710.8L2208.5,1709.2L2225.2,1707.5L2266.9,1708.3L2283.6,1710.8L2308.6,1712.5L2350.3,1715.0L2371.2,1715.8L2392.1,1714.2L2433.8,1710.8L2454.6,1708.3L2458.8,1706.6L2458.8,1705.3L2458.8,1705.3Z" fill="#e377c2"/><path d="M1565.5,1771.6L1565.5,1771.6L1565.5,1770.9L1571.8,1765.9L1584.3,1764.2L1626.0,1765.0L1646.9,1764.2L1663.6,1762.5L1680.3,1767.6L1705.3,1766.7L1730.3,1766.7L1763.7,1769.2L1807.5,1769.2L1809.6,1770.9L1838.8,1770.1L1855.5,1765.9L1897.2,1762.5L1938.9,1760.0L1980.7,1763.4L2014.0,1767.6L2026.6,1767.6L2039.1,1765.9L2085.0,1764.2L2110.0,1763.4L2120.9,1765.0L2141.7,1767.6L2183.4,1768.4L2204.3,1769.2L2221.0,1767.6L2233.5,1765.9L2258.5,1764.2L2287.7,1763.4L2300.3,1762.5L2329.5,1764.2L2350.3,1765.0L2392.1,1765.0L2412.9,1767.6L2433.8,1768.4L2458.8,1769.2L2463.0,1770.9L2463.0,1771.6L2463.0,1771.6Z" fill="#1f77b4"/><path d="M1571.8,1771.6L1571.8,1771.6L1571.8,1773.4L1588.5,1775.9L1605.2,1779.2L1626.0,1780.9L1634.4,1790.9L1667.8,1792.6L1709.5,1791.8L1736.6,1790.9L1738.7,1784.2L1772.1,1782.6L1780.4,1775.9L1813.8,1775.9L1815.9,1780.9L1834.6,1780.9L1876.4,1785.9L1918.1,1787.6L1959.8,1785.1L2001.5,1779.2L2026.6,1774.2L2064.1,1774.2L2110.0,1773.4L2116.7,1775.1L2141.7,1775.9L2204.3,1775.9L2225.2,1773.4L2233.5,1773.4L2233.5,1771.6L2233.5,1771.6Z" fill="#e377c2"/><path d="M1674.0,1837.9L1674.0,1837.9L1674.0,1837.2L1676.1,1835.5L1776.2,1835.5L1778.3,1837.2L1788.7,1837.2L1790.8,1834.7L1893.0,1834.7L1895.1,1837.2L2078.7,1837.2L2080.8,1835.5L2110.0,1835.5L2125.0,1834.7L2150.1,1832.2L2170.9,1830.5L2183.4,1831.4L2200.1,1830.5L2225.2,1830.5L2254.4,1831.4L2258.5,1833.9L2275.2,1834.7L2300.3,1835.5L2302.4,1837.2L2302.4,1837.9L2302.4,1837.9Z" fill="#1f77b4"/><path d="M1872.2,1837.9L1872.2,1837.9L1872.2,1838.9L1874.3,1840.6L1974.4,1840.6L1976.5,1838.9L1976.5,1837.9L1976.5,1837.9Z" fill="#e377c2"/><path d="M1913.9,1904.3L1913.9,1904.3L1913.9,1903.1L1916.0,1902.3L2016.1,1902.3L2018.2,1903.6L2074.5,1903.1L2080.8,1900.6L2101.7,1899.0L2110.0,1899.0L2175.1,1899.0L2179.3,1901.5L2202.2,1902.3L2204.3,1903.6L2273.2,1903.1L2275.2,1901.5L2375.4,1901.5L2377.4,1903.6L2377.4,1904.3L2377.4,1904.3Z" fill="#1f77b4"/><path d="M1895.1,1904.3L1895.1,1904.3L1895.1,1905.6L1897.2,1907.3L1997.4,1907.3L1999.4,1905.6L1999.4,1904.3L1999.4,1904.3Z" fill="#e377c2"/><path d="M1583.5,1970.6L1583.5,1970.6L1583.5,1969.9L1584.3,1966.6L1605.2,1964.0L1626.0,1963.2L1684.4,1963.2L1692.8,1965.7L1705.3,1967.4L1730.3,1968.2L1732.4,1969.9L1747.0,1968.2L1826.3,1968.2L1834.6,1966.6L1847.2,1965.7L1863.8,1964.0L1880.5,1962.4L1897.2,1962.4L1930.6,1961.5L1959.8,1962.4L2022.4,1962.4L2064.1,1961.5L2105.8,1963.2L2110.0,1964.0L2141.7,1965.7L2143.8,1967.4L2162.6,1967.4L2170.9,1964.9L2191.8,1964.9L2204.3,1963.2L2225.2,1962.4L2246.0,1959.9L2271.1,1959.9L2279.4,1961.5L2300.3,1961.5L2308.6,1964.0L2333.6,1964.0L2346.2,1963.2L2350.3,1966.6L2383.7,1967.4L2433.8,1968.2L2437.9,1969.9L2437.9,1970.6L2437.9,1970.6Z" fill="#1f77b4"/><path d="M1584.3,1970.6L1584.3,1970.6L1584.3,1972.4L1586.4,1973.2L1686.5,1973.2L1688.6,1972.4L1763.7,1972.4L1765.8,1973.2L1863.8,1973.2L1865.9,1972.4L1865.9,1970.6L1865.9,1970.6Z" fill="#e377c2"/><path d="M1638.5,2036.9L1638.5,2036.9L1638.5,2036.2L1640.6,2032.9L1667.8,2032.1L1705.3,2030.4L1722.0,2027.9L1738.7,2027.0L1751.2,2029.5L1772.1,2028.7L1797.1,2027.9L1813.8,2028.7L1826.3,2032.1L1855.5,2032.1L1876.4,2030.4L1897.2,2030.4L1918.1,2029.5L1938.9,2028.7L1980.7,2029.5L1993.2,2030.4L2014.0,2027.9L2030.7,2027.9L2064.1,2027.9L2085.0,2027.0L2110.0,2027.9L2116.7,2030.4L2125.0,2032.1L2162.6,2032.9L2191.8,2030.4L2225.2,2029.5L2246.0,2028.7L2266.9,2027.9L2300.3,2028.7L2333.6,2027.9L2358.7,2028.7L2392.1,2031.2L2417.1,2032.9L2431.7,2033.7L2432.9,2036.2L2432.9,2036.9L2432.9,2036.9Z" fill="#1f77b4"/><path d="M1755.4,2036.9L1755.4,2036.9L1755.4,2037.9L1772.1,2039.6L1784.6,2040.4L1786.7,2044.6L1813.8,2047.1L1855.5,2050.4L1880.5,2052.1L1897.2,2051.2L1938.9,2047.9L1980.7,2041.2L1993.2,2038.7L2089.1,2038.7L2093.3,2040.4L2110.0,2040.4L2193.9,2039.6L2196.0,2037.9L2294.0,2037.9L2296.1,2039.6L2396.2,2039.6L2398.3,2037.9L2398.3,2036.9L2398.3,2036.9Z" fill="#e377c2"/><path d="M1594.7,2103.2L1594.7,2103.2L1594.7,2102.1L1596.0,2099.6L1626.0,2098.0L1646.9,2097.1L1667.8,2095.5L1680.3,2093.0L1697.0,2093.8L1730.3,2095.5L1767.9,2096.3L1780.4,2099.6L1784.6,2098.8L1813.8,2097.1L1826.3,2094.6L1855.5,2093.0L1880.5,2092.1L1918.1,2093.0L1938.9,2094.6L1980.7,2095.5L2022.4,2095.5L2064.1,2095.5L2110.0,2095.5L2129.2,2097.1L2141.7,2095.5L2183.4,2093.8L2225.2,2092.1L2233.5,2090.5L2275.2,2088.8L2329.5,2090.5L2342.0,2093.8L2371.2,2095.5L2377.4,2098.0L2408.7,2098.8L2429.6,2100.5L2431.7,2102.6L2431.7,2103.2L2431.7,2103.2Z" fill="#1f77b4"/><path d="M1605.2,2103.2L1605.2,2103.2L1605.2,2104.6L1607.3,2106.3L1707.4,2106.3L1709.5,2104.6L1782.5,2104.6L1784.6,2106.3L1884.7,2106.3L1886.8,2104.6L2001.5,2104.6L2003.6,2106.3L2030.7,2106.3L2032.8,2104.6L2110.0,2104.6L2110.0,2103.2L2110.0,2103.2Z" fill="#e377c2"/><path d="M1584.3,2169.6L1584.3,2169.6L1584.3,2168.9L1586.4,2164.7L1605.2,2160.5L1626.0,2159.7L1684.4,2159.7L1697.0,2162.2L1705.3,2165.6L1722.0,2168.1L1730.3,2168.9L1734.5,2167.2L1763.7,2167.2L1780.4,2164.7L1826.3,2163.9L1843.0,2163.0L1863.8,2161.4L1897.2,2160.5L1938.9,2158.9L1955.6,2158.0L1980.7,2160.5L2014.0,2160.5L2030.7,2161.4L2064.1,2160.5L2080.8,2162.2L2093.3,2161.4L2110.0,2161.4L2120.9,2163.0L2141.7,2162.2L2183.4,2160.5L2204.3,2161.4L2225.2,2163.0L2246.0,2164.7L2266.9,2165.6L2275.2,2167.2L2291.9,2166.4L2308.6,2167.2L2392.1,2167.2L2394.1,2169.6L2394.1,2169.6L2394.1,2169.6Z" fill="#1f77b4"/><path d="M1594.7,2169.6L1594.7,2169.6L1594.7,2171.4L1596.8,2178.9L1605.2,2181.4L1626.0,2183.9L1688.6,2184.8L1697.0,2183.1L1730.3,2177.2L1734.5,2173.9L1767.9,2174.7L1772.1,2178.1L1813.8,2180.6L1855.5,2182.2L1876.4,2182.2L1897.2,2180.6L1938.9,2177.2L1980.7,2173.1L2001.5,2171.4L2001.5,2169.6L2001.5,2169.6Z" fill="#e377c2"/><path d="M1623.9,2235.9L1623.9,2235.9L1623.9,2235.2L1626.0,2232.7L1726.2,2232.7L1728.2,2235.2L1784.6,2235.2L1786.7,2231.9L1813.8,2229.4L1834.6,2227.7L1855.5,2226.0L1897.2,2226.0L1938.9,2227.7L1955.6,2230.2L2001.5,2231.9L2005.7,2233.5L2009.9,2231.9L2064.1,2231.9L2089.1,2231.0L2093.3,2228.5L2110.0,2227.7L2133.4,2231.0L2162.6,2229.4L2183.4,2228.5L2208.5,2229.4L2233.5,2227.7L2266.9,2228.5L2291.9,2227.7L2329.5,2230.2L2367.0,2231.0L2375.4,2233.5L2392.1,2234.4L2394.1,2235.6L2394.1,2235.9L2394.1,2235.9Z" fill="#1f77b4"/><path d="M1763.7,2235.9L1763.7,2235.9L1763.7,2236.9L1767.9,2237.7L1786.7,2237.7L1788.7,2243.6L1855.5,2244.4L1888.9,2244.4L1891.0,2240.2L1905.6,2241.1L1930.6,2242.7L1938.9,2246.9L1959.8,2251.1L1980.7,2254.4L2001.5,2256.9L2030.7,2256.9L2064.1,2254.4L2085.0,2250.2L2097.5,2245.2L2110.0,2243.6L2116.7,2243.6L2129.2,2240.2L2175.1,2238.6L2208.5,2241.1L2221.0,2244.4L2246.0,2245.2L2308.6,2246.1L2317.0,2244.4L2350.3,2241.9L2392.1,2239.4L2408.7,2238.6L2410.8,2236.9L2410.8,2235.9L2410.8,2235.9Z" fill="#e377c2"/><path d="M1578.1,2302.2L1578.1,2302.2L1578.1,2301.1L1580.1,2298.6L1605.2,2297.0L1646.9,2297.0L1684.4,2297.0L1686.5,2295.3L1730.3,2295.3L1751.2,2293.6L1772.1,2292.8L1813.8,2291.1L1826.3,2290.3L1855.5,2288.6L1897.2,2289.5L1905.6,2288.6L1938.9,2290.3L1959.8,2292.0L1980.7,2290.3L1993.2,2289.5L2022.4,2292.0L2043.2,2292.8L2072.4,2292.0L2097.5,2292.8L2110.0,2294.5L2129.2,2293.6L2162.6,2292.0L2183.4,2292.8L2225.2,2292.0L2254.4,2292.8L2266.9,2296.1L2279.4,2295.3L2329.5,2295.3L2350.3,2297.8L2371.2,2298.6L2392.1,2300.3L2392.1,2302.2L2392.1,2302.2Z" fill="#1f77b4"/><path d="M1734.5,2302.2L1734.5,2302.2L1734.5,2303.6L1738.7,2306.1L1763.7,2308.6L1792.9,2312.8L1826.3,2317.0L1855.5,2318.7L1880.5,2319.5L1918.1,2317.0L1959.8,2314.5L1976.5,2312.0L1980.7,2308.6L2001.5,2307.8L2030.7,2308.6L2072.4,2312.0L2110.0,2314.5L2141.7,2312.8L2162.6,2313.7L2183.4,2311.1L2225.2,2310.3L2254.4,2311.1L2266.9,2313.7L2275.2,2312.8L2308.6,2311.1L2350.3,2309.5L2364.9,2305.3L2367.0,2303.6L2367.0,2302.2L2367.0,2302.2Z" fill="#e377c2"/><path d="M1614.3,2368.6L1614.3,2368.6L1614.3,2367.9L1617.7,2362.9L1626.0,2361.2L1680.3,2361.2L1715.7,2361.2L1719.9,2364.6L1726.2,2367.1L1788.7,2367.1L1790.8,2365.4L1813.8,2362.9L1826.3,2361.2L1855.5,2358.7L1884.7,2356.2L1918.1,2357.0L1938.9,2358.7L1959.8,2361.2L1997.4,2364.6L2022.4,2366.2L2043.2,2364.6L2064.1,2363.7L2085.0,2364.6L2110.0,2364.6L2129.2,2365.4L2141.7,2365.4L2183.4,2362.9L2191.8,2361.2L2225.2,2362.0L2246.0,2361.2L2266.9,2362.9L2291.9,2364.6L2308.6,2366.2L2350.3,2366.2L2352.4,2367.9L2352.4,2368.6L2352.4,2368.6Z" fill="#1f77b4"/><path d="M1734.5,2368.6L1734.5,2368.6L1734.5,2370.4L1763.7,2372.9L1772.1,2376.2L1792.9,2377.9L1826.3,2381.2L1855.5,2383.7L1880.5,2384.6L1918.1,2381.2L1938.9,2377.9L1959.8,2374.6L1980.7,2372.9L2022.4,2373.7L2030.7,2371.2L2064.1,2371.2L2085.0,2370.4L2100.0,2370.4L2133.4,2372.9L2196.0,2372.9L2204.3,2374.6L2246.0,2373.7L2275.2,2372.9L2317.0,2372.9L2350.3,2371.2L2352.4,2370.4L2352.4,2368.6L2352.4,2368.6Z" fill="#e377c2"/><path d="M1586.4,2434.9L1586.4,2434.9L1586.4,2434.2L1588.5,2432.5L1601.0,2431.7L1605.2,2429.2L1617.7,2427.5L1646.9,2426.7L1688.6,2427.5L1705.3,2429.2L1713.6,2431.7L1726.2,2433.4L1728.2,2434.2L1763.7,2434.2L1772.1,2431.7L1792.9,2429.2L1826.3,2427.5L1834.6,2425.0L1876.4,2424.2L1918.1,2425.9L1938.9,2427.5L1959.8,2427.5L1980.7,2425.0L2022.4,2424.2L2064.1,2425.9L2076.6,2428.4L2093.3,2427.5L2110.0,2426.7L2120.9,2427.5L2162.6,2425.0L2191.8,2423.4L2216.8,2425.0L2258.5,2426.7L2275.2,2429.2L2308.6,2430.0L2333.6,2430.9L2358.7,2431.7L2392.1,2433.4L2400.4,2434.2L2400.4,2434.9L2400.4,2434.9Z" fill="#1f77b4"/><path d="M1722.0,2434.9L1722.0,2434.9L1722.0,2435.9L1724.1,2436.7L1751.2,2437.6L1755.4,2441.7L1792.9,2444.2L1826.3,2445.1L1855.5,2444.2L1859.7,2440.9L1897.2,2437.6L1938.9,2438.4L1947.3,2441.7L1980.7,2446.7L2014.0,2451.7L2030.7,2451.7L2064.1,2449.2L2085.0,2447.6L2110.0,2447.6L2112.5,2441.7L2125.0,2439.2L2183.4,2438.4L2208.5,2439.2L2225.2,2440.1L2258.5,2440.1L2275.2,2443.4L2300.3,2445.1L2333.6,2444.2L2358.7,2442.6L2383.7,2437.6L2400.4,2435.9L2400.4,2434.9L2400.4,2434.9Z" fill="#e377c2"/><path d="M1610.2,2501.2L1610.2,2501.2L1610.2,2500.1L1611.4,2496.0L1711.6,2496.0L1713.6,2500.6L1730.3,2500.1L1751.2,2498.5L1772.1,2495.1L1792.9,2493.5L1826.3,2491.8L1838.8,2490.1L1855.5,2489.3L1897.2,2490.1L1938.9,2491.8L1959.8,2494.3L1980.7,2493.5L2022.4,2493.5L2064.1,2492.6L2085.0,2494.3L2110.0,2494.3L2133.4,2492.6L2162.6,2491.0L2183.4,2491.8L2225.2,2494.3L2246.0,2496.0L2266.9,2498.5L2275.2,2497.6L2325.3,2497.6L2329.5,2499.3L2371.2,2499.3L2373.3,2500.6L2373.3,2501.2L2373.3,2501.2Z" fill="#1f77b4"/><path d="M1722.0,2501.2L1722.0,2501.2L1722.0,2502.6L1730.3,2505.2L1747.0,2506.0L1751.2,2509.3L1792.9,2514.3L1826.3,2516.0L1847.2,2517.7L1876.4,2516.0L1918.1,2513.5L1938.9,2511.8L1959.8,2504.3L1961.9,2502.6L2296.1,2502.6L2298.2,2504.3L2398.3,2504.3L2400.4,2502.6L2400.4,2501.2L2400.4,2501.2Z" fill="#e377c2"/><path d="M1597.7,2567.6L1597.7,2567.6L1597.7,2566.9L1601.0,2562.7L1626.0,2561.9L1701.1,2562.7L1705.3,2566.9L1724.1,2566.9L1726.2,2565.2L1751.2,2561.0L1772.1,2556.9L1826.3,2554.4L1847.2,2553.5L1863.8,2554.4L1876.4,2556.9L1918.1,2558.5L1938.9,2561.0L1959.8,2561.9L1980.7,2560.2L2022.4,2560.2L2064.1,2561.9L2076.6,2560.2L2097.5,2561.0L2110.0,2559.4L2133.4,2560.2L2162.6,2557.7L2191.8,2556.0L2225.2,2557.7L2246.0,2559.4L2266.9,2558.5L2287.7,2561.0L2329.5,2562.7L2350.3,2565.2L2354.5,2566.9L2354.5,2567.6L2354.5,2567.6Z" fill="#1f77b4"/><path d="M1713.6,2567.6L1713.6,2567.6L1713.6,2569.4L1738.7,2570.2L1747.0,2574.4L1772.1,2577.7L1813.8,2581.1L1847.2,2583.6L1876.4,2581.1L1918.1,2576.9L1947.3,2571.1L1951.5,2569.4L1953.5,2597.8L2022.4,2597.8L2055.8,2598.6L2057.9,2573.6L2085.0,2571.9L2110.0,2570.2L2225.2,2570.2L2233.5,2571.9L2266.9,2572.7L2271.1,2574.4L2308.6,2574.4L2333.6,2573.6L2367.0,2571.1L2371.2,2569.4L2371.2,2567.6L2371.2,2567.6Z" fill="#e377c2"/><path d="M1584.3,2633.9L1584.3,2633.9L1584.3,2633.2L1586.4,2630.7L1626.0,2629.9L1688.6,2630.7L1692.8,2633.2L1722.0,2633.2L1724.1,2631.5L1772.1,2630.7L1797.1,2629.9L1813.8,2627.4L1826.3,2626.5L1855.5,2625.7L1897.2,2625.7L1918.1,2627.4L1928.5,2631.5L1934.8,2630.7L1968.1,2629.9L2001.5,2628.2L2026.6,2627.4L2064.1,2627.4L2085.0,2628.2L2110.0,2626.5L2116.7,2624.9L2141.7,2624.0L2183.4,2623.2L2208.5,2624.0L2225.2,2625.7L2241.8,2628.2L2250.2,2627.4L2275.2,2628.2L2308.6,2629.9L2350.3,2630.7L2362.9,2632.4L2379.5,2632.4L2381.6,2633.6L2381.6,2633.9L2381.6,2633.9Z" fill="#1f77b4"/><path d="M1697.0,2633.9L1697.0,2633.9L1697.0,2634.9L1699.0,2636.6L1801.3,2636.6L1803.3,2634.9L1980.7,2634.9L1984.8,2636.6L2005.7,2639.1L2030.7,2639.9L2064.1,2642.4L2085.0,2643.2L2110.0,2643.2L2120.9,2642.4L2141.7,2641.6L2183.4,2639.9L2208.5,2638.2L2237.7,2637.4L2250.2,2639.1L2266.9,2640.7L2329.5,2639.1L2358.7,2636.6L2367.0,2634.9L2367.0,2633.9L2367.0,2633.9Z" fill="#e377c2"/><path d="M1580.1,2700.2L1580.1,2700.2L1580.1,2699.1L1588.5,2695.8L1601.0,2692.5L1626.0,2691.6L1680.3,2691.6L1692.8,2694.1L1701.1,2696.6L1713.6,2695.8L1724.1,2691.6L1730.3,2690.0L1772.1,2690.0L1792.9,2688.3L1813.8,2689.1L1826.3,2690.0L1828.4,2694.1L1855.5,2692.5L1876.4,2691.6L1888.9,2694.1L1922.2,2694.1L1926.4,2691.6L1938.9,2690.8L1947.3,2689.1L1980.7,2690.0L2026.6,2689.1L2043.2,2691.6L2051.6,2695.0L2064.1,2694.1L2110.0,2693.3L2120.9,2692.5L2141.7,2690.8L2183.4,2689.1L2225.2,2690.0L2258.5,2691.6L2275.2,2693.3L2308.6,2694.1L2329.5,2695.8L2350.3,2698.3L2352.4,2699.6L2352.4,2700.2L2352.4,2700.2Z" fill="#1f77b4"/><path d="M1671.9,2700.2L1671.9,2700.2L1671.9,2701.6L1674.0,2703.3L1774.1,2703.3L1776.2,2701.6L2191.8,2701.6L2193.9,2703.3L2212.7,2705.0L2246.0,2705.8L2287.7,2705.8L2308.6,2704.1L2325.3,2703.3L2327.4,2701.6L2327.4,2700.2L2327.4,2700.2Z" fill="#e377c2"/><path d="M1576.8,2766.5L1576.8,2766.5L1576.8,2765.9L1580.1,2760.9L1626.0,2760.0L1680.3,2760.0L1684.4,2764.2L1697.0,2762.6L1730.3,2761.7L1763.7,2759.2L1780.4,2757.5L1813.8,2756.7L1847.2,2755.0L1876.4,2756.7L1918.1,2759.2L1938.9,2760.9L1947.3,2762.6L1980.7,2761.7L2022.4,2762.6L2030.7,2763.4L2064.1,2762.6L2085.0,2760.9L2097.5,2758.4L2110.0,2756.7L2120.9,2757.5L2154.2,2755.9L2183.4,2756.7L2200.1,2760.0L2208.5,2761.7L2212.7,2759.2L2258.5,2759.2L2275.2,2761.7L2312.8,2762.6L2314.9,2766.5L2314.9,2766.5L2314.9,2766.5Z" fill="#1f77b4"/><path d="M1653.1,2766.5L1653.1,2766.5L1653.1,2768.4L1655.2,2775.1L1688.6,2775.9L1709.5,2778.4L1730.3,2779.2L1755.4,2779.2L1757.5,2776.7L1792.9,2775.1L1813.8,2772.6L1826.3,2768.4L1826.3,2766.5L1826.3,2766.5Z" fill="#e377c2"/><path d="M1598.9,2832.9L1598.9,2832.9L1598.9,2832.2L1600.2,2828.9L1626.0,2828.1L1659.4,2826.4L1688.6,2823.0L1709.5,2823.9L1730.3,2823.0L1755.4,2820.5L1772.1,2818.9L1792.9,2818.0L1826.3,2817.2L1855.5,2818.9L1884.7,2822.2L1893.0,2825.5L1918.1,2826.4L1930.6,2828.1L1951.5,2825.5L2001.5,2825.5L2030.7,2824.7L2055.8,2821.4L2076.6,2818.9L2089.1,2817.2L2110.0,2816.4L2120.9,2814.7L2150.1,2814.7L2183.4,2817.2L2216.8,2818.0L2225.2,2819.7L2246.0,2820.5L2266.9,2822.2L2287.7,2823.9L2308.6,2827.2L2312.8,2829.7L2314.9,2832.6L2314.9,2832.9L2314.9,2832.9Z" fill="#1f77b4"/><path d="M1630.2,2832.9L1630.2,2832.9L1630.2,2833.9L1634.4,2835.6L1663.6,2835.6L1667.8,2839.7L1688.6,2842.2L1730.3,2845.6L1767.9,2848.1L1792.9,2848.1L1826.3,2846.4L1855.5,2844.7L1897.2,2847.2L1918.1,2849.7L1938.9,2852.2L1980.7,2856.4L2022.4,2855.6L2043.2,2853.9L2064.1,2847.2L2080.8,2840.6L2110.0,2840.6L2125.0,2839.7L2141.7,2843.1L2175.1,2845.6L2204.3,2845.6L2225.2,2844.7L2258.5,2841.4L2275.2,2836.4L2291.9,2834.7L2296.1,2833.9L2296.1,2832.9L2296.1,2832.9Z" fill="#e377c2"/><path d="M1619.8,2899.2L1619.8,2899.2L1619.8,2898.1L1621.9,2897.3L1667.8,2896.5L1688.6,2894.8L1709.5,2891.5L1738.7,2888.1L1772.1,2885.6L1805.4,2885.6L1826.3,2886.5L1855.5,2889.0L1876.4,2891.5L1918.1,2893.1L1938.9,2894.0L1959.8,2895.6L1974.4,2898.1L2049.5,2898.1L2051.6,2896.5L2068.3,2894.8L2110.0,2894.8L2141.7,2892.3L2170.9,2894.0L2183.4,2891.5L2225.2,2892.3L2237.7,2894.0L2279.4,2894.0L2283.6,2898.6L2283.6,2899.2L2283.6,2899.2Z" fill="#1f77b4"/><path d="M1628.1,2899.2L1628.1,2899.2L1628.1,2900.6L1630.2,2902.3L1659.4,2903.2L1661.5,2906.5L1688.6,2909.8L1730.3,2913.2L1763.7,2914.8L1797.1,2912.3L1826.3,2909.8L1855.5,2905.7L1863.8,2902.3L1865.9,2900.6L2185.5,2900.6L2187.6,2902.3L2200.1,2904.0L2287.7,2903.2L2304.4,2902.3L2306.5,2900.6L2306.5,2899.2L2306.5,2899.2Z" fill="#e377c2"/><path d="M1576.0,2965.5L1576.0,2965.5L1576.0,2964.9L1580.1,2961.6L1605.2,2959.1L1646.9,2958.2L1667.8,2954.9L1688.6,2954.1L1730.3,2953.2L1763.7,2951.5L1792.9,2953.2L1826.3,2953.2L1855.5,2954.9L1876.4,2954.1L1893.0,2951.5L1938.9,2952.4L1972.3,2954.1L1993.2,2955.7L1997.4,2960.7L2014.0,2960.7L2026.6,2959.1L2039.1,2960.7L2055.8,2956.6L2085.0,2953.2L2110.0,2952.4L2120.9,2951.5L2145.9,2949.9L2183.4,2951.5L2208.5,2951.5L2241.8,2954.9L2246.0,2959.1L2275.2,2959.9L2300.3,2962.4L2308.6,2964.9L2308.6,2965.5L2308.6,2965.5Z" fill="#1f77b4"/><path d="M1628.1,2965.5L1628.1,2965.5L1628.1,2967.4L1651.1,2968.2L1653.1,2973.2L1688.6,2977.4L1730.3,2979.9L1755.4,2981.6L1792.9,2979.1L1826.3,2975.7L1855.5,2971.6L1868.0,2967.4L1972.3,2967.4L1974.4,2968.2L2047.4,2968.2L2051.6,2969.9L2072.4,2969.9L2110.0,2969.1L2145.9,2969.9L2158.4,2969.1L2258.5,2969.1L2260.6,2967.4L2308.6,2967.4L2308.6,2965.5L2308.6,2965.5Z" fill="#e377c2"/><path d="M1628.1,3031.9L1628.1,3031.9L1628.1,3031.2L1638.5,3030.4L1646.9,3028.7L1688.6,3027.9L1730.3,3026.2L1751.2,3022.9L1772.1,3022.0L1797.1,3020.4L1826.3,3018.7L1847.2,3020.4L1868.0,3022.9L1876.4,3021.2L1897.2,3021.2L1938.9,3021.2L1980.7,3021.2L1989.0,3022.9L2022.4,3024.5L2043.2,3022.0L2064.1,3017.0L2085.0,3014.5L2110.0,3013.7L2120.9,3012.9L2141.7,3011.2L2162.6,3012.0L2170.9,3013.7L2225.2,3013.7L2246.0,3018.7L2266.9,3020.4L2287.7,3024.5L2300.3,3026.2L2306.5,3030.4L2308.6,3031.6L2308.6,3031.9L2308.6,3031.9Z" fill="#1f77b4"/><path d="M1628.1,3031.9L1628.1,3031.9L1628.1,3032.9L1646.9,3035.4L1651.1,3038.7L1684.4,3040.4L1688.6,3045.4L1730.3,3044.6L1790.8,3042.9L1792.9,3037.1L1822.1,3037.9L1830.5,3042.1L1855.5,3042.9L1897.2,3044.6L1918.1,3046.2L1938.9,3044.6L1980.7,3044.6L2022.4,3043.7L2064.1,3041.2L2085.0,3041.2L2110.0,3041.2L2120.9,3039.6L2141.7,3039.6L2162.6,3041.2L2183.4,3040.4L2225.2,3040.4L2246.0,3039.6L2275.2,3037.1L2287.7,3034.6L2291.9,3032.9L2291.9,3031.9L2291.9,3031.9Z" fill="#e377c2"/><path d="M1626.0,3098.2L1626.0,3098.2L1626.0,3097.1L1630.2,3096.3L1646.9,3095.5L1651.1,3093.0L1688.6,3091.3L1730.3,3088.8L1763.7,3087.1L1813.8,3088.8L1826.3,3090.5L1855.5,3093.0L1868.0,3097.1L1872.2,3096.3L1897.2,3095.5L1930.6,3093.0L1972.3,3093.0L2009.9,3094.6L2022.4,3092.1L2043.2,3090.5L2064.1,3087.1L2085.0,3085.5L2110.0,3082.1L2133.4,3082.9L2162.6,3084.6L2191.8,3085.5L2200.1,3092.1L2250.2,3092.1L2266.9,3095.5L2279.4,3096.3L2281.5,3097.6L2281.5,3098.2L2281.5,3098.2Z" fill="#1f77b4"/><path d="M1630.2,3098.2L1630.2,3098.2L1630.2,3099.6L1634.4,3102.1L1663.6,3103.0L1665.7,3106.3L1709.5,3109.7L1763.7,3111.3L1813.8,3107.1L1830.5,3105.5L1838.8,3101.3L1851.3,3100.5L1855.5,3099.6L1938.9,3099.6L1943.1,3101.3L2022.4,3102.1L2026.6,3101.3L2064.1,3101.3L2076.6,3102.1L2110.0,3102.1L2181.4,3101.3L2183.4,3099.6L2183.4,3098.2L2183.4,3098.2Z" fill="#e377c2"/><path d="M2012.0,3164.5L2012.0,3164.5L2012.0,3163.9L2014.0,3163.1L2047.4,3163.1L2049.5,3160.6L2080.8,3159.7L2082.9,3158.0L2110.0,3158.0L2116.7,3158.0L2150.1,3158.9L2154.2,3161.4L2181.4,3161.4L2183.4,3164.5L2183.4,3164.5L2183.4,3164.5Z" fill="#1f77b4"/><path d="M2093.3,3164.5L2093.3,3164.5L2093.3,3166.4L2095.4,3168.1L2110.0,3168.9L2196.0,3168.9L2208.5,3167.2L2210.6,3166.4L2210.6,3164.5L2210.6,3164.5Z" fill="#e377c2"/><path d="M1646.9,3230.9L1646.9,3230.9L1646.9,3230.2L1655.2,3226.9L1667.8,3223.5L1680.3,3221.9L1709.5,3221.9L1747.0,3220.2L1763.7,3221.9L1776.2,3224.4L1784.6,3227.7L1813.8,3226.9L1826.3,3225.2L1843.0,3226.1L1855.5,3228.6L1876.4,3227.7L1880.5,3226.1L1918.1,3224.4L1938.9,3223.5L1980.7,3222.7L2001.5,3221.9L2005.7,3221.0L2030.7,3221.0L2064.1,3221.0L2110.0,3221.9L2154.2,3226.1L2162.6,3227.7L2206.4,3228.6L2208.5,3230.6L2208.5,3230.9L2208.5,3230.9Z" fill="#1f77b4"/><path d="M1592.6,3230.9L1592.6,3230.9L1592.6,3231.9L1594.7,3233.6L1692.8,3233.6L1694.9,3231.9L1868.0,3231.9L1870.1,3233.6L1880.5,3234.4L1886.8,3236.9L1980.7,3236.9L1989.0,3233.6L2007.8,3233.6L2014.0,3236.1L2030.7,3238.6L2064.1,3238.6L2085.0,3239.4L2110.0,3239.4L2112.5,3237.7L2129.2,3236.9L2131.3,3235.2L2187.6,3234.4L2189.7,3233.6L2218.9,3233.6L2221.0,3231.9L2221.0,3230.9L2221.0,3230.9Z" fill="#e377c2"/><path d="M1649.0,3297.2L1649.0,3297.2L1649.0,3296.1L1651.1,3293.6L1663.6,3291.1L1688.6,3289.5L1709.5,3287.8L1747.0,3286.1L1772.1,3287.8L1797.1,3288.6L1813.8,3288.6L1826.3,3289.5L1855.5,3291.1L1897.2,3292.8L1930.6,3293.6L1938.9,3292.0L1951.5,3291.1L1980.7,3290.3L2022.4,3289.5L2064.1,3290.3L2097.5,3288.6L2110.0,3287.8L2116.7,3288.6L2154.2,3289.5L2189.7,3291.1L2200.1,3294.5L2208.5,3296.1L2208.5,3297.2L2208.5,3297.2Z" fill="#1f77b4"/><path d="M1571.8,3297.2L1571.8,3297.2L1571.8,3298.6L1588.5,3300.3L1590.6,3304.5L1605.2,3306.2L1626.0,3308.7L1646.9,3310.3L1688.6,3312.8L1730.3,3308.7L1772.1,3304.5L1792.9,3301.2L1826.3,3300.3L1855.5,3301.2L1857.6,3298.6L1943.1,3298.6L1945.2,3300.3L2047.4,3300.3L2049.5,3298.6L2114.6,3298.6L2116.7,3300.3L2216.8,3300.3L2218.9,3298.6L2218.9,3297.2L2218.9,3297.2Z" fill="#e377c2"/><path d="M1607.3,3363.5L1607.3,3363.5L1607.3,3362.9L1617.7,3361.2L1626.0,3359.6L1646.9,3357.1L1688.6,3353.7L1730.3,3352.9L1763.7,3352.1L1797.1,3352.9L1813.8,3353.7L1826.3,3355.4L1843.0,3357.1L1863.8,3357.9L1897.2,3359.6L1938.9,3357.9L1980.7,3358.7L2022.4,3356.2L2030.7,3358.7L2064.1,3357.9L2085.0,3357.1L2110.0,3356.2L2120.9,3357.1L2125.0,3358.7L2150.1,3359.6L2173.0,3361.2L2183.4,3362.1L2185.5,3363.5L2185.5,3363.5L2185.5,3363.5Z" fill="#1f77b4"/><path d="M1632.3,3363.5L1632.3,3363.5L1632.3,3365.4L1634.4,3367.1L1734.5,3367.1L1736.6,3365.4L1934.8,3365.4L1936.9,3367.1L2026.6,3367.1L2030.7,3368.7L2037.0,3367.9L2039.1,3365.4L2100.0,3366.2L2129.2,3366.2L2131.3,3365.4L2131.3,3363.5L2131.3,3363.5Z" fill="#e377c2"/><path d="M1603.1,3429.8L1603.1,3429.8L1603.1,3429.2L1605.2,3426.7L1617.7,3424.2L1626.0,3421.7L1646.9,3420.9L1667.8,3420.0L1692.8,3419.2L1709.5,3420.0L1730.3,3424.2L1751.2,3423.4L1772.1,3422.5L1792.9,3423.4L1826.3,3422.5L1855.5,3422.5L1897.2,3420.9L1938.9,3420.0L1959.8,3419.2L1980.7,3420.0L2022.4,3421.7L2043.2,3422.5L2055.8,3424.2L2064.1,3425.9L2110.0,3425.9L2118.8,3425.9L2125.0,3427.5L2162.6,3427.5L2163.4,3429.6L2163.4,3429.8L2163.4,3429.8Z" fill="#1f77b4"/><path d="M1605.2,3429.8L1605.2,3429.8L1605.2,3430.9L1607.3,3432.6L1705.3,3432.6L1707.4,3430.9L2045.3,3430.9L2047.4,3432.6L2110.0,3432.6L2145.9,3432.6L2148.0,3430.9L2148.0,3429.8L2148.0,3429.8Z" fill="#e377c2"/><path d="M1586.4,3496.2L1586.4,3496.2L1586.4,3495.1L1588.5,3491.8L1592.6,3489.3L1626.0,3486.8L1646.9,3485.1L1663.6,3482.6L1688.6,3482.6L1697.0,3485.1L1730.3,3485.1L1755.4,3486.0L1759.5,3490.1L1822.1,3490.1L1824.2,3486.0L1855.5,3486.8L1897.2,3486.0L1922.2,3482.6L1959.8,3482.6L2001.5,3482.6L2022.4,3483.5L2028.6,3488.5L2043.2,3488.5L2051.6,3490.1L2085.0,3490.1L2110.0,3491.0L2116.7,3491.0L2120.9,3492.6L2137.5,3493.5L2139.6,3495.6L2139.6,3496.2L2139.6,3496.2Z" fill="#1f77b4"/><path d="M1589.3,3496.2L1589.3,3496.2L1589.3,3497.6L1592.6,3500.1L1692.8,3500.1L1694.9,3497.6L1903.5,3497.6L1905.6,3499.3L1966.1,3499.3L1968.1,3501.0L2005.7,3501.0L2007.8,3499.3L2068.3,3499.3L2070.4,3497.6L2070.4,3496.2L2070.4,3496.2Z" fill="#e377c2"/><path d="M1619.8,3562.5L1619.8,3562.5L1619.8,3561.9L1623.9,3558.6L1630.2,3556.9L1722.0,3556.9L1728.2,3560.2L1738.7,3560.2L1801.3,3559.4L1826.3,3558.6L1834.6,3556.0L1876.4,3554.4L1897.2,3553.5L1922.2,3551.9L1938.9,3551.9L1959.8,3553.5L2001.5,3553.5L2022.4,3555.2L2043.2,3557.7L2080.8,3558.6L2105.8,3560.2L2110.0,3560.2L2125.0,3560.2L2125.9,3562.5L2125.9,3562.5L2125.9,3562.5Z" fill="#1f77b4"/><path d="M1580.1,3562.5L1580.1,3562.5L1580.1,3564.4L1582.2,3566.1L1682.3,3566.1L1684.4,3564.4L1684.4,3562.5L1684.4,3562.5Z" fill="#e377c2"/><path d="M1617.7,3628.8L1617.7,3628.8L1617.7,3628.2L1619.8,3627.4L1634.4,3625.7L1688.6,3625.7L1705.3,3624.1L1730.3,3624.9L1755.4,3624.1L1788.7,3622.4L1826.3,3621.5L1855.5,3621.5L1888.9,3620.7L1918.1,3621.5L1951.5,3622.4L1980.7,3624.1L1989.0,3626.6L2022.4,3627.4L2089.1,3627.4L2091.2,3628.6L2091.2,3628.8L2091.2,3628.8Z" fill="#1f77b4"/><path d="M1588.5,3628.8L1588.5,3628.8L1588.5,3629.9L1590.6,3632.4L1690.7,3632.4L1692.8,3629.9L1920.2,3629.9L1922.2,3631.6L2022.4,3631.6L2024.5,3629.9L2024.5,3628.8L2024.5,3628.8Z" fill="#e377c2"/><path d="M1626.0,3695.2L1626.0,3695.2L1626.0,3694.1L1628.1,3693.3L1728.2,3693.3L1730.3,3694.6L1747.0,3693.3L1809.6,3692.5L1813.8,3690.0L1843.0,3689.1L1876.4,3687.5L1897.2,3686.6L1918.1,3687.5L1947.3,3689.1L1980.7,3691.6L1997.4,3693.3L1999.4,3694.6L1999.4,3695.2L1999.4,3695.2Z" fill="#1f77b4"/><path d="M1586.4,3695.2L1586.4,3695.2L1586.4,3696.6L1588.5,3698.3L1688.6,3698.3L1690.7,3696.6L1690.7,3695.2L1690.7,3695.2Z" fill="#e377c2"/><path d="M1576.8,3761.5L1576.8,3761.5L1576.8,3760.9L1578.1,3759.2L1663.6,3759.2L1676.1,3756.7L1730.3,3755.9L1772.1,3754.2L1780.4,3755.9L1826.3,3754.2L1843.0,3751.7L1863.8,3751.7L1897.2,3753.4L1930.6,3755.1L1938.9,3756.7L1968.1,3758.4L2030.7,3759.2L2032.8,3761.5L2032.8,3761.5L2032.8,3761.5Z" fill="#1f77b4"/><path d="M1578.1,3761.5L1578.1,3761.5L1578.1,3763.4L1580.1,3765.1L1680.3,3765.1L1682.3,3763.4L1847.2,3763.4L1853.4,3765.9L1913.9,3765.9L1918.1,3767.6L1951.5,3766.7L1955.6,3764.2L2018.2,3764.2L2022.4,3763.4L2022.4,3761.5L2022.4,3761.5Z" fill="#e377c2"/><path d="M1605.2,3827.8L1605.2,3827.8L1605.2,3827.2L1607.3,3809.7L1626.0,3808.9L1667.8,3808.0L1705.3,3807.2L1709.5,3809.7L1711.6,3816.4L1730.3,3817.2L1751.2,3818.0L1788.7,3818.9L1801.3,3821.4L1813.8,3823.9L1834.6,3823.9L1836.7,3824.7L1888.9,3824.7L1891.0,3826.4L1928.5,3826.4L1930.6,3827.6L1930.6,3827.8L1930.6,3827.8Z" fill="#1f77b4"/><path d="M1587.6,3827.8L1587.6,3827.8L1587.6,3828.9L1589.3,3830.6L1688.6,3830.6L1690.7,3828.9L1690.7,3827.8L1690.7,3827.8Z" fill="#e377c2"/><path d="M1628.1,3894.2L1628.1,3894.2L1628.1,3893.1L1630.2,3892.3L1688.6,3891.5L1690.7,3889.8L1709.5,3888.1L1730.3,3889.0L1772.1,3889.0L1780.4,3887.3L1792.9,3887.3L1797.1,3889.8L1813.8,3890.6L1876.4,3890.6L1882.6,3893.6L1882.6,3894.2L1882.6,3894.2Z" fill="#1f77b4"/><path d="M1742.8,3894.2L1742.8,3894.2L1742.8,3895.6L1744.9,3897.3L1780.4,3897.3L1781.2,3899.0L1843.0,3899.0L1845.1,3897.3L1880.5,3897.3L1882.6,3895.6L1882.6,3894.2L1882.6,3894.2Z" fill="#e377c2"/><path d="M1617.7,3960.5L1617.7,3960.5L1617.7,3959.9L1621.9,3957.4L1646.9,3955.7L1655.2,3954.9L1684.4,3954.0L1722.0,3954.0L1730.3,3954.9L1747.0,3955.7L1784.6,3956.6L1826.3,3957.4L1830.5,3958.2L1853.4,3959.1L1855.5,3960.5L1855.5,3960.5L1855.5,3960.5Z" fill="#1f77b4"/><path d="M1563.4,3960.5L1563.4,3960.5L1563.4,3962.4L1565.5,3963.2L1663.6,3963.2L1665.7,3962.4L1665.7,3960.5L1665.7,3960.5Z" fill="#e377c2"/><path d="M1576.8,4026.8L1576.8,4026.8L1576.8,4026.2L1588.5,4023.7L1613.5,4022.0L1626.0,4021.2L1646.9,4019.5L1663.6,4018.7L1680.3,4018.7L1688.6,4020.4L1713.6,4020.4L1742.8,4021.2L1747.0,4022.9L1767.9,4023.7L1770.0,4025.4L1813.8,4025.4L1814.6,4026.6L1814.6,4026.8L1814.6,4026.8Z" fill="#1f77b4"/><path d="M1609.3,4093.2L1609.3,4093.2L1609.3,4092.1L1611.4,4091.3L1626.0,4090.5L1638.5,4088.0L1709.5,4088.0L1713.6,4088.8L1740.8,4088.8L1742.8,4091.3L1834.6,4091.3L1836.7,4092.6L1836.7,4093.2L1836.7,4093.2Z" fill="#1f77b4"/><path d="M1590.6,4159.5L1590.6,4159.5L1590.6,4158.9L1592.6,4153.0L1605.2,4151.4L1692.8,4151.4L1694.9,4157.2L1707.4,4157.2L1708.6,4159.5L1708.6,4159.5L1708.6,4159.5Z" fill="#1f77b4"/><path d="M1640.6,4159.5L1640.6,4159.5L1640.6,4161.4L1642.7,4162.2L1661.5,4163.1L1742.8,4163.1L1744.9,4162.2L1763.7,4162.2L1765.8,4161.4L1765.8,4159.5L1765.8,4159.5Z" fill="#e377c2"/><path d="M1576.8,4225.8L1576.8,4225.8L1576.8,4225.2L1578.1,4224.4L1586.4,4223.5L1588.5,4222.7L1678.2,4222.7L1680.3,4224.0L1688.6,4224.4L1689.4,4225.6L1689.4,4225.8L1689.4,4225.8Z" fill="#1f77b4"/></g><g stroke="#a9a9a9" stroke-width="2"><line x1="1627" y1="235.0" x2="1627" y2="4416.0"/><line x1="1828" y1="235.0" x2="1828" y2="4416.0"/><line x1="2030" y1="235.0" x2="2030" y2="4416.0"/><line x1="2232" y1="235.0" x2="2232" y2="4416.0"/><line x1="2433" y1="235.0" x2="2433" y2="4416.0"/><line x1="2635" y1="235.0" x2="2635" y2="4416.0"/></g><g><line x1="1482.6" y1="445.80" x2="2721.4" y2="445.80" stroke="#e377c2" stroke-width="3.0"/><line x1="1482.6" y1="444.90" x2="2721.4" y2="444.90" stroke="#000" stroke-opacity="0.6" stroke-width="1.2"/><line x1="1482.6" y1="512.13" x2="2721.4" y2="512.13" stroke="#e377c2" stroke-width="3.0"/><line x1="1482.6" y1="511.23" x2="2721.4" y2="511.23" stroke="#000" stroke-opacity="0.6" stroke-width="1.2"/><line x1="1482.6" y1="578.46" x2="2721.4" y2="578.46" stroke="#e377c2" stroke-width="3.0"/><line x1="1482.6" y1="577.56" x2="2721.4" y2="577.56" stroke="#000" stroke-opacity="0.6" stroke-width="1.2"/><line x1="1482.6" y1="644.79" x2="2721.4" y2="644.79" stroke="#e377c2" stroke-width="3.0"/><line x1="1482.6" y1="643.89" x2="2721.4" y2="643.89" stroke="#000" stroke-opacity="0.6" stroke-width="1.2"/><line x1="1482.6" y1="711.12" x2="2721.4" y2="711.12" stroke="#e377c2" stroke-width="3.0"/><line x1="1482.6" y1="710.22" x2="2721.4" y2="710.22" stroke="#000" stroke-opacity="0.6" stroke-width="1.2"/><line x1="1482.6" y1="777.45" x2="2721.4" y2="777.45" stroke="#e377c2" stroke-width="3.0"/><line x1="1482.6" y1="776.55" x2="2721.4" y2="776.55" stroke="#000" stroke-opacity="0.6" stroke-width="1.2"/><line x1="1482.6" y1="843.78" x2="2721.4" y2="843.78" stroke="#e377c2" stroke-width="3.0"/><line x1="1482.6" y1="842.88" x2="2721.4" y2="842.88" stroke="#000" stroke-opacity="0.6" stroke-width="1.2"/><line x1="1482.6" y1="910.11" x2="2721.4" y2="910.11" stroke="#e377c2" stroke-width="3.0"/><line x1="1482.6" y1="909.21" x2="2721.4" y2="909.21" stroke="#000" stroke-opacity="0.6" stroke-width="1.2"/><line x1="1482.6" y1="976.44" x2="2721.4" y2="976.44" stroke="#e377c2" stroke-width="3.0"/><line x1="1482.6" y1="975.54" x2="2721.4" y2="975.54" stroke="#000" stroke-opacity="0.6" stroke-width="1.2"/><line x1="1482.6" y1="1042.77" x2="2721.4" y2="1042.77" stroke="#e377c2" stroke-width="3.0"/><line x1="1482.6" y1="1041.87" x2="2721.4" y2="1041.87" stroke="#000" stroke-opacity="0.6" stroke-width="1.2"/><line x1="1482.6" y1="1109.10" x2="2721.4" y2="1109.10" stroke="#e377c2" stroke-width="3.0"/><line x1="1482.6" y1="1108.20" x2="2721.4" y2="1108.20" stroke="#000" stroke-opacity="0.6" stroke-width="1.2"/><line x1="1482.6" y1="1175.43" x2="2721.4" y2="1175.43" stroke="#e377c2" stroke-width="3.0"/><line x1="1482.6" y1="1174.53" x2="2721.4" y2="1174.53" stroke="#000" stroke-opacity="0.6" stroke-width="1.2"/><line x1="1482.6" y1="1241.76" x2="2721.4" y2="1241.76" stroke="#e377c2" stroke-width="3.0"/><line x1="1482.6" y1="1240.86" x2="2721.4" y2="1240.86" stroke="#000" stroke-opacity="0.6" stroke-width="1.2"/><line x1="1482.6" y1="1308.09" x2="2721.4" y2="1308.09" stroke="#e377c2" stroke-width="3.0"/><line x1="1482.6" y1="1307.19" x2="2721.4" y2="1307.19" stroke="#000" stroke-opacity="0.6" stroke-width="1.2"/><line x1="1482.6" y1="1374.42" x2="2721.4" y2="1374.42" stroke="#e377c2" stroke-width="3.0"/><line x1="1482.6" y1="1373.52" x2="2721.4" y2="1373.52" stroke="#000" stroke-opacity="0.6" stroke-width="1.2"/><line x1="1482.6" y1="1440.75" x2="2721.4" y2="1440.75" stroke="#e377c2" stroke-width="3.0"/><line x1="1482.6" y1="1439.85" x2="2721.4" y2="1439.85" stroke="#000" stroke-opacity="0.6" stroke-width="1.2"/><line x1="1482.6" y1="1507.08" x2="2721.4" y2="1507.08" stroke="#e377c2" stroke-width="3.0"/><line x1="1482.6" y1="1506.18" x2="2721.4" y2="1506.18" stroke="#000" stroke-opacity="0.6" stroke-width="1.2"/><line x1="1482.6" y1="1573.41" x2="2721.4" y2="1573.41" stroke="#e377c2" stroke-width="3.0"/><line x1="1482.6" y1="1572.51" x2="2721.4" y2="1572.51" stroke="#000" stroke-opacity="0.6" stroke-width="1.2"/><line x1="1482.6" y1="1639.74" x2="2721.4" y2="1639.74" stroke="#e377c2" stroke-width="3.0"/><line x1="1482.6" y1="1638.84" x2="2721.4" y2="1638.84" stroke="#000" stroke-opacity="0.6" stroke-width="1.2"/><line x1="1482.6" y1="1706.07" x2="2721.4" y2="1706.07" stroke="#e377c2" stroke-width="3.0"/><line x1="1482.6" y1="1705.17" x2="2721.4" y2="1705.17" stroke="#000" stroke-opacity="0.6" stroke-width="1.2"/><line x1="1482.6" y1="1772.40" x2="2721.4" y2="1772.40" stroke="#e377c2" stroke-width="3.0"/><line x1="1482.6" y1="1771.50" x2="2721.4" y2="1771.50" stroke="#000" stroke-opacity="0.6" stroke-width="1.2"/><line x1="1482.6" y1="1838.73" x2="2721.4" y2="1838.73" stroke="#e377c2" stroke-width="3.0"/><line x1="1482.6" y1="1837.83" x2="2721.4" y2="1837.83" stroke="#000" stroke-opacity="0.6" stroke-width="1.2"/><line x1="1482.6" y1="1905.06" x2="2721.4" y2="1905.06" stroke="#e377c2" stroke-width="3.0"/><line x1="1482.6" y1="1904.16" x2="2721.4" y2="1904.16" stroke="#000" stroke-opacity="0.6" stroke-width="1.2"/><line x1="1482.6" y1="1971.39" x2="2721.4" y2="1971.39" stroke="#e377c2" stroke-width="3.0"/><line x1="1482.6" y1="1970.49" x2="2721.4" y2="1970.49" stroke="#000" stroke-opacity="0.6" stroke-width="1.2"/><line x1="1482.6" y1="2037.72" x2="2721.4" y2="2037.72" stroke="#e377c2" stroke-width="3.0"/><line x1="1482.6" y1="2036.82" x2="2721.4" y2="2036.82" stroke="#000" stroke-opacity="0.6" stroke-width="1.2"/><line x1="1482.6" y1="2104.05" x2="2721.4" y2="2104.05" stroke="#e377c2" stroke-width="3.0"/><line x1="1482.6" y1="2103.15" x2="2721.4" y2="2103.15" stroke="#000" stroke-opacity="0.6" stroke-width="1.2"/><line x1="1482.6" y1="2170.38" x2="2721.4" y2="2170.38" stroke="#e377c2" stroke-width="3.0"/><line x1="1482.6" y1="2169.48" x2="2721.4" y2="2169.48" stroke="#000" stroke-opacity="0.6" stroke-width="1.2"/><line x1="1482.6" y1="2236.71" x2="2721.4" y2="2236.71" stroke="#e377c2" stroke-width="3.0"/><line x1="1482.6" y1="2235.81" x2="2721.4" y2="2235.81" stroke="#000" stroke-opacity="0.6" stroke-width="1.2"/><line x1="1482.6" y1="2303.04" x2="2721.4" y2="2303.04" stroke="#e377c2" stroke-width="3.0"/><line x1="1482.6" y1="2302.14" x2="2721.4" y2="2302.14" stroke="#000" stroke-opacity="0.6" stroke-width="1.2"/><line x1="1482.6" y1="2369.37" x2="2721.4" y2="2369.37" stroke="#e377c2" stroke-width="3.0"/><line x1="1482.6" y1="2368.47" x2="2721.4" y2="2368.47" stroke="#000" stroke-opacity="0.6" stroke-width="1.2"/><line x1="1482.6" y1="2435.70" x2="2721.4" y2="2435.70" stroke="#e377c2" stroke-width="3.0"/><line x1="1482.6" y1="2434.80" x2="2721.4" y2="2434.80" stroke="#000" stroke-opacity="0.6" stroke-width="1.2"/><line x1="1482.6" y1="2502.03" x2="2721.4" y2="2502.03" stroke="#e377c2" stroke-width="3.0"/><line x1="1482.6" y1="2501.13" x2="2721.4" y2="2501.13" stroke="#000" stroke-opacity="0.6" stroke-width="1.2"/><line x1="1482.6" y1="2568.36" x2="2721.4" y2="2568.36" stroke="#e377c2" stroke-width="3.0"/><line x1="1482.6" y1="2567.46" x2="2721.4" y2="2567.46" stroke="#000" stroke-opacity="0.6" stroke-width="1.2"/><line x1="1482.6" y1="2634.69" x2="2721.4" y2="2634.69" stroke="#e377c2" stroke-width="3.0"/><line x1="1482.6" y1="2633.79" x2="2721.4" y2="2633.79" stroke="#000" stroke-opacity="0.6" stroke-width="1.2"/><line x1="1482.6" y1="2701.02" x2="2721.4" y2="2701.02" stroke="#e377c2" stroke-width="3.0"/><line x1="1482.6" y1="2700.12" x2="2721.4" y2="2700.12" stroke="#000" stroke-opacity="0.6" stroke-width="1.2"/><line x1="1482.6" y1="2767.35" x2="2721.4" y2="2767.35" stroke="#e377c2" stroke-width="3.0"/><line x1="1482.6" y1="2766.45" x2="2721.4" y2="2766.45" stroke="#000" stroke-opacity="0.6" stroke-width="1.2"/><line x1="1482.6" y1="2833.68" x2="2721.4" y2="2833.68" stroke="#e377c2" stroke-width="3.0"/><line x1="1482.6" y1="2832.78" x2="2721.4" y2="2832.78" stroke="#000" stroke-opacity="0.6" stroke-width="1.2"/><line x1="1482.6" y1="2900.01" x2="2721.4" y2="2900.01" stroke="#e377c2" stroke-width="3.0"/><line x1="1482.6" y1="2899.11" x2="2721.4" y2="2899.11" stroke="#000" stroke-opacity="0.6" stroke-width="1.2"/><line x1="1482.6" y1="2966.34" x2="2721.4" y2="2966.34" stroke="#e377c2" stroke-width="3.0"/><line x1="1482.6" y1="2965.44" x2="2721.4" y2="2965.44" stroke="#000" stroke-opacity="0.6" stroke-width="1.2"/><line x1="1482.6" y1="3032.67" x2="2721.4" y2="3032.67" stroke="#e377c2" stroke-width="3.0"/><line x1="1482.6" y1="3031.77" x2="2721.4" y2="3031.77" stroke="#000" stroke-opacity="0.6" stroke-width="1.2"/><line x1="1482.6" y1="3099.00" x2="2721.4" y2="3099.00" stroke="#e377c2" stroke-width="3.0"/><line x1="1482.6" y1="3098.10" x2="2721.4" y2="3098.10" stroke="#000" stroke-opacity="0.6" stroke-width="1.2"/><line x1="1482.6" y1="3165.33" x2="2721.4" y2="3165.33" stroke="#e377c2" stroke-width="3.0"/><line x1="1482.6" y1="3164.43" x2="2721.4" y2="3164.43" stroke="#000" stroke-opacity="0.6" stroke-width="1.2"/><line x1="1482.6" y1="3231.66" x2="2721.4" y2="3231.66" stroke="#e377c2" stroke-width="3.0"/><line x1="1482.6" y1="3230.76" x2="2721.4" y2="3230.76" stroke="#000" stroke-opacity="0.6" stroke-width="1.2"/><line x1="1482.6" y1="3297.99" x2="2721.4" y2="3297.99" stroke="#e377c2" stroke-width="3.0"/><line x1="1482.6" y1="3297.09" x2="2721.4" y2="3297.09" stroke="#000" stroke-opacity="0.6" stroke-width="1.2"/><line x1="1482.6" y1="3364.32" x2="2721.4" y2="3364.32" stroke="#e377c2" stroke-width="3.0"/><line x1="1482.6" y1="3363.42" x2="2721.4" y2="3363.42" stroke="#000" stroke-opacity="0.6" stroke-width="1.2"/><line x1="1482.6" y1="3430.65" x2="2721.4" y2="3430.65" stroke="#e377c2" stroke-width="3.0"/><line x1="1482.6" y1="3429.75" x2="2721.4" y2="3429.75" stroke="#000" stroke-opacity="0.6" stroke-width="1.2"/><line x1="1482.6" y1="3496.98" x2="2721.4" y2="3496.98" stroke="#e377c2" stroke-width="3.0"/><line x1="1482.6" y1="3496.08" x2="2721.4" y2="3496.08" stroke="#000" stroke-opacity="0.6" stroke-width="1.2"/><line x1="1482.6" y1="3563.31" x2="2721.4" y2="3563.31" stroke="#e377c2" stroke-width="3.0"/><line x1="1482.6" y1="3562.41" x2="2721.4" y2="3562.41" stroke="#000" stroke-opacity="0.6" stroke-width="1.2"/><line x1="1482.6" y1="3629.64" x2="2721.4" y2="3629.64" stroke="#e377c2" stroke-width="3.0"/><line x1="1482.6" y1="3628.74" x2="2721.4" y2="3628.74" stroke="#000" stroke-opacity="0.6" stroke-width="1.2"/><line x1="1482.6" y1="3695.97" x2="2721.4" y2="3695.97" stroke="#e377c2" stroke-width="3.0"/><line x1="1482.6" y1="3695.07" x2="2721.4" y2="3695.07" stroke="#000" stroke-opacity="0.6" stroke-width="1.2"/><line x1="1482.6" y1="3762.30" x2="2721.4" y2="3762.30" stroke="#e377c2" stroke-width="3.0"/><line x1="1482.6" y1="3761.40" x2="2721.4" y2="3761.40" stroke="#000" stroke-opacity="0.6" stroke-width="1.2"/><line x1="1482.6" y1="3828.63" x2="2721.4" y2="3828.63" stroke="#e377c2" stroke-width="3.0"/><line x1="1482.6" y1="3827.73" x2="2721.4" y2="3827.73" stroke="#000" stroke-opacity="0.6" stroke-width="1.2"/><line x1="1482.6" y1="3894.96" x2="2721.4" y2="3894.96" stroke="#e377c2" stroke-width="3.0"/><line x1="1482.6" y1="3894.06" x2="2721.4" y2="3894.06" stroke="#000" stroke-opacity="0.6" stroke-width="1.2"/><line x1="1482.6" y1="3961.29" x2="2721.4" y2="3961.29" stroke="#e377c2" stroke-width="3.0"/><line x1="1482.6" y1="3960.39" x2="2721.4" y2="3960.39" stroke="#000" stroke-opacity="0.6" stroke-width="1.2"/><line x1="1482.6" y1="4027.62" x2="2721.4" y2="4027.62" stroke="#e377c2" stroke-width="3.0"/><line x1="1482.6" y1="4026.72" x2="2721.4" y2="4026.72" stroke="#000" stroke-opacity="0.6" stroke-width="1.2"/><line x1="1482.6" y1="4093.95" x2="2721.4" y2="4093.95" stroke="#e377c2" stroke-width="3.0"/><line x1="1482.6" y1="4093.05" x2="2721.4" y2="4093.05" stroke="#000" stroke-opacity="0.6" stroke-width="1.2"/><line x1="1482.6" y1="4160.28" x2="2721.4" y2="4160.28" stroke="#e377c2" stroke-width="3.0"/><line x1="1482.6" y1="4159.38" x2="2721.4" y2="4159.38" stroke="#000" stroke-opacity="0.6" stroke-width="1.2"/><line x1="1482.6" y1="4226.61" x2="2721.4" y2="4226.61" stroke="#e377c2" stroke-width="3.0"/><line x1="1482.6" y1="4225.71" x2="2721.4" y2="4225.71" stroke="#000" stroke-opacity="0.6" stroke-width="1.2"/></g><line x1="1627" y1="4416.0" x2="1627" y2="235.0" stroke="#000" stroke-width="2" stroke-dasharray="7.4 3.2"/><rect x="1438.4" y="247.3" width="823.0" height="83.1" rx="5" ry="5" fill="#fff" fill-opacity="0.8" stroke="#cccccc" stroke-opacity="0.8" stroke-width="2.5"/><rect x="1447.2" y="258.40" width="52.4" height="19.3" fill="#1f77b4"/><text transform="scale(1.07347,1)" x="1414.39 1429.18 1443.97 1466.67 1480.88 1495.67 1503.12 1512.20 1526.99 1541.20 1555.99 1570.31 1579.28 1593.48 1608.27 1614.79 1628.53 1635.99 1650.77 1665.56 1688.27 1702.48 1717.26 1728.91 1743.70 1758.02 1767.10 1778.75 1792.95 1806.46 1814.26 1821.72 1841.86 1857.81 1865.27 1871.79 1886.58 1895.66 1910.45 1929.89 1947.48 1959.12 1975.07 1995.22 2009.31 2020.84 2034.58 2043.66 2051.46 2058.91 2073.70 2088.49" y="276.30" font-size="26.12" fill="#000">human (page-only human_get_ok; MA ln(1+H_AMP*x); up)</text><rect x="1447.2" y="295.90" width="52.4" height="19.3" fill="#e377c2"/><text transform="scale(1.07258,1)" x="1415.55 1438.28 1452.50 1465.32 1480.12 1486.64 1501.44 1515.78 1523.24 1532.33 1547.13 1554.59 1569.39 1583.61 1592.70 1604.35 1615.89 1623.35 1638.15 1652.95 1665.77 1678.47 1692.80 1701.89 1714.13 1721.94 1729.40 1749.56 1765.53 1773.33 1780.79 1787.32 1802.12 1811.21 1826.01 1845.47 1863.07 1874.72 1890.69 1910.85 1924.95 1936.49 1950.24 1959.33 1967.14 1974.60 1989.40 2003.62 2022.73 2037.53" y="313.80" font-size="26.12" fill="#000">machine (Σ bot_* buckets; MA; ln(1+H_AMP*x); down)</text><rect x="1425.0" y="235.0" width="1412.0" height="4181.0" fill="none" stroke="#000" stroke-width="2" stroke-linejoin="miter" stroke-linecap="square"/><g stroke="#000" stroke-width="2"><line x1="1416.25" y1="445.00" x2="1425.00" y2="445.00"/><line x1="1416.25" y1="511.33" x2="1425.00" y2="511.33"/><line x1="1416.25" y1="577.66" x2="1425.00" y2="577.66"/><line x1="1416.25" y1="643.99" x2="1425.00" y2="643.99"/><line x1="1416.25" y1="710.32" x2="1425.00" y2="710.32"/><line x1="1416.25" y1="776.65" x2="1425.00" y2="776.65"/><line x1="1416.25" y1="842.98" x2="1425.00" y2="842.98"/><line x1="1416.25" y1="909.31" x2="1425.00" y2="909.31"/><line x1="1416.25" y1="975.64" x2="1425.00" y2="975.64"/><line x1="1416.25" y1="1041.97" x2="1425.00" y2="1041.97"/><line x1="1416.25" y1="1108.30" x2="1425.00" y2="1108.30"/><line x1="1416.25" y1="1174.63" x2="1425.00" y2="1174.63"/><line x1="1416.25" y1="1240.96" x2="1425.00" y2="1240.96"/><line x1="1416.25" y1="1307.29" x2="1425.00" y2="1307.29"/><line x1="1416.25" y1="1373.62" x2="1425.00" y2="1373.62"/><line x1="1416.25" y1="1439.95" x2="1425.00" y2="1439.95"/><line x1="1416.25" y1="1506.28" x2="1425.00" y2="1506.28"/><line x1="1416.25" y1="1572.61" x2="1425.00" y2="1572.61"/><line x1="1416.25" y1="1638.94" x2="1425.00" y2="1638.94"/><line x1="1416.25" y1="1705.27" x2="1425.00" y2="1705.27"/><line x1="1416.25" y1="1771.60" x2="1425.00" y2="1771.60"/><line x1="1416.25" y1="1837.93" x2="1425.00" y2="1837.93"/><line x1="1416.25" y1="1904.26" x2="1425.00" y2="1904.26"/><line x1="1416.25" y1="1970.59" x2="1425.00" y2="1970.59"/><line x1="1416.25" y1="2036.92" x2="1425.00" y2="2036.92"/><line x1="1416.25" y1="2103.25" x2="1425.00" y2="2103.25"/><line x1="1416.25" y1="2169.58" x2="1425.00" y2="2169.58"/><line x1="1416.25" y1="2235.91" x2="1425.00" y2="2235.91"/><line x1="1416.25" y1="2302.24" x2="1425.00" y2="2302.24"/><line x1="1416.25" y1="2368.57" x2="1425.00" y2="2368.57"/><line x1="1416.25" y1="2434.90" x2="1425.00" y2="2434.90"/><line x1="1416.25" y1="2501.23" x2="1425.00" y2="2501.23"/><line x1="1416.25" y1="2567.56" x2="1425.00" y2="2567.56"/><line x1="1416.25" y1="2633.89" x2="1425.00" y2="2633.89"/><line x1="1416.25" y1="2700.22" x2="1425.00" y2="2700.22"/><line x1="1416.25" y1="2766.55" x2="1425.00" y2="2766.55"/><line x1="1416.25" y1="2832.88" x2="1425.00" y2="2832.88"/><line x1="1416.25" y1="2899.21" x2="1425.00" y2="2899.21"/><line x1="1416.25" y1="2965.54" x2="1425.00" y2="2965.54"/><line x1="1416.25" y1="3031.87" x2="1425.00" y2="3031.87"/><line x1="1416.25" y1="3098.20" x2="1425.00" y2="3098.20"/><line x1="1416.25" y1="3164.53" x2="1425.00" y2="3164.53"/><line x1="1416.25" y1="3230.86" x2="1425.00" y2="3230.86"/><line x1="1416.25" y1="3297.19" x2="1425.00" y2="3297.19"/><line x1="1416.25" y1="3363.52" x2="1425.00" y2="3363.52"/><line x1="1416.25" y1="3429.85" x2="1425.00" y2="3429.85"/><line x1="1416.25" y1="3496.18" x2="1425.00" y2="3496.18"/><line x1="1416.25" y1="3562.51" x2="1425.00" y2="3562.51"/><line x1="1416.25" y1="3628.84" x2="1425.00" y2="3628.84"/><line x1="1416.25" y1="3695.17" x2="1425.00" y2="3695.17"/><line x1="1416.25" y1="3761.50" x2="1425.00" y2="3761.50"/><line x1="1416.25" y1="3827.83" x2="1425.00" y2="3827.83"/><line x1="1416.25" y1="3894.16" x2="1425.00" y2="3894.16"/><line x1="1416.25" y1="3960.49" x2="1425.00" y2="3960.49"/><line x1="1416.25" y1="4026.82" x2="1425.00" y2="4026.82"/><line x1="1416.25" y1="4093.15" x2="1425.00" y2="4093.15"/><line x1="1416.25" y1="4159.48" x2="1425.00" y2="4159.48"/><line x1="1416.25" y1="4225.81" x2="1425.00" y2="4225.81"/><line x1="1425" y1="4416.00" x2="1425" y2="4425.00"/><line x1="1627" y1="4416.00" x2="1627" y2="4425.00"/><line x1="1828" y1="4416.00" x2="1828" y2="4425.00"/><line x1="2030" y1="4416.00" x2="2030" y2="4425.00"/><line x1="2232" y1="4416.00" x2="2232" y2="4425.00"/><line x1="2433" y1="4416.00" x2="2433" y2="4425.00"/><line x1="2635" y1="4416.00" x2="2635" y2="4425.00"/><line x1="2837" y1="4416.00" x2="2837" y2="4425.00"/><line x1="1526" y1="4416.00" x2="1526" y2="4421.00"/><line x1="1728" y1="4416.00" x2="1728" y2="4421.00"/><line x1="1929" y1="4416.00" x2="1929" y2="4421.00"/><line x1="2131" y1="4416.00" x2="2131" y2="4421.00"/><line x1="2333" y1="4416.00" x2="2333" y2="4421.00"/><line x1="2534" y1="4416.00" x2="2534" y2="4421.00"/><line x1="2736" y1="4416.00" x2="2736" y2="4421.00"/></g><text transform="scale(1.19315,1)" x="1172.16 1189.76 1203.07" y="4453.50" font-size="26.12" fill="#000">−14</text><text transform="scale(1.09261,1)" x="1481.57" y="4453.50" font-size="26.12" fill="#000">0</text><text transform="scale(1.09691,1)" x="1652.36 1666.84" y="4453.50" font-size="26.12" fill="#000">14</text><text transform="scale(1.10121,1)" x="1829.03 1843.56" y="4453.50" font-size="26.12" fill="#000">28</text><text transform="scale(1.10121,1)" x="2012.20 2026.73" y="4453.50" font-size="26.12" fill="#000">42</text><text transform="scale(1.09261,1)" x="2212.78 2227.19" y="4453.50" font-size="26.12" fill="#000">56</text><text transform="scale(1.09261,1)" x="2397.40 2411.93" y="4453.50" font-size="26.12" fill="#000">70</text><text transform="scale(1.10121,1)" x="2561.73 2576.26" y="4453.50" font-size="26.12" fill="#000">84</text><text transform="scale(1.08356,1)" x="67.83 77.41 83.87 93.79 104.17 110.63 120.67 129.09 137.51 142.70 158.27 162.77 169.12 179.39 189.31 199.57 205.92 211.11 225.07 235.10 250.79 260.71 267.52 275.94 281.25 286.44 297.74 307.67 318.05 328.32 332.81 339.16 343.66 353.23 363.27 368.46 382.42 392.46 408.14 418.07 422.56 430.99 440.91 447.25 451.75 461.67 471.94 477.13 487.05 495.47 500.66 510.58 515.78 526.39 536.66 546.58 559.84 564.34 574.38 584.76 595.14 605.18 611.06 621.21 631.48 641.86 646.36 656.63 666.67 676.70 683.51 688.01 698.28 708.66 713.85 722.96 732.88 739.23 745.57 755.61 762.18 772.45 777.64 783.30 793.22 800.02 805.21 815.48 821.83 831.75 838.09 848.13 852.63 862.66 871.08 879.51 884.70 893.70 902.69 916.65 921.84 926.57 936.84 943.18 953.22 960.03 969.95 978.83 985.18 989.67 999.60 1009.86 1015.05 1021.40 1031.67 1041.93 1052.20 1062.47 1068.35 1078.62 1088.88 1094.77 1105.04 1115.30 1125.22 1135.49 1145.76 1151.06 1161.33 1171.60 1182.56 1188.79 1193.98 1200.32 1210.59 1215.90 1226.16 1236.43 1246.70 1251.77 1256.96 1266.89 1272.19 1282.46 1292.73" y="452.00" font-size="18.29" fill="#000">Progress Without Memory: Cognitive Memoisation as a Knowledge-Engineering Pattern for Stateless LLM Interaction (2025-12-17T22:21Z) (h:112, a:67)</text><text transform="scale(1.08668,1)" x="281.82 293.09 302.99 313.34 323.58 328.06 334.39 338.88 348.42 358.43 363.61 377.53 387.53 403.18 413.07 417.56 425.95 435.84 442.17 446.66 456.55 466.79 471.96 481.86 492.09 502.45 507.62 516.60 525.57 539.49 547.88 553.17 558.35 569.39 574.57 588.49 598.50 604.82 615.06 624.95 635.31 640.48 646.12 656.01 662.80 667.97 678.10 687.64 697.88 702.37 712.26 719.05 728.94 735.27 745.16 751.94 761.49 766.67 780.59 790.48 800.83 810.84 815.33 819.81 824.30 834.54 844.89 850.06 861.22 871.23 876.87 886.76 893.20 903.21 908.38 917.01 926.90 933.46 949.10 959.00 963.48 967.97 976.37 986.26 992.59 997.07 1006.96 1017.20 1022.38 1028.70 1038.94 1049.18 1059.42 1069.65 1075.52 1085.76 1096.00 1101.86 1112.10 1122.34 1132.23 1142.47 1152.71 1158.00 1168.23 1178.47 1189.40 1195.61 1200.79 1207.11 1217.35 1222.64 1232.88 1243.12 1248.18 1253.36 1263.25 1268.54 1278.78 1289.02" y="518.33" font-size="18.29" fill="#000">Cognitive Memoisation and LLMs: A Method for Exploratory Modelling Before Formalisation (2025-12-18T01:32Z) (h:84, a:37)</text><text transform="scale(1.07442,1)" x="377.76 389.16 399.17 409.64 419.99 424.53 430.93 435.47 445.12 455.24 460.48 474.56 484.68 500.50 510.51 515.04 523.54 533.54 539.94 544.48 554.48 564.84 570.19 575.42 585.31 589.85 599.86 604.39 614.75 620.68 629.76 639.76 650.12 660.59 670.94 680.95 691.42 701.54 706.77 717.13 727.48 743.30 759.13 769.13 776.00 785.65 790.89 797.29 806.01 816.02 822.88 828.12 840.33 850.34 860.69 865.11 872.33 882.45 891.41 901.76 912.12 916.65 925.61 935.62 940.15 945.39 956.09 966.21 976.22 986.69 996.81 1003.68 1012.17 1018.45 1023.69 1030.09 1040.44 1050.79 1061.15 1071.50 1077.44 1087.79 1098.15 1104.08 1114.43 1124.79 1134.79 1145.15 1155.50 1160.85 1171.21 1181.56 1192.62 1198.90 1204.13 1210.53 1220.89 1226.24 1236.59 1246.95 1257.30 1262.42 1267.66 1277.66 1283.01 1293.37 1303.72" y="584.66" font-size="18.29" fill="#000">Cognitive Memoisation: Plain-Language Summary (For Non-Technical Readers) (2025-12-18T08:07Z) (h:195, a:96)</text><text transform="scale(1.07126,1)" x="322.75 334.19 344.57 354.61 361.02 373.62 383.54 393.58 398.83 410.73 415.51 420.77 432.08 442.12 452.50 462.89 473.39 483.43 490.31 499.99 505.25 513.41 520.30 524.85 533.83 540.25 544.80 554.84 565.22 570.47 580.51 589.03 594.28 604.31 609.56 621.00 631.03 641.42 649.93 656.35 663.24 673.27 677.82 688.21 694.62 699.88 709.91 720.30 725.55 736.28 746.32 756.70 767.09 777.59 782.02 789.61 796.49 801.04 811.43 816.68 827.41 837.80 847.83 861.25 865.80 875.95 886.45 896.96 907.11 912.36 922.63 933.01 943.51 948.06 958.45 968.60 978.75 985.64 990.19 1000.57 1011.07 1016.32 1022.74 1033.13 1043.51 1053.90 1064.28 1070.23 1080.62 1091.00 1096.95 1107.34 1117.72 1127.76 1138.14 1148.53 1153.90 1164.28 1174.67 1185.75 1192.05 1197.30 1203.72 1214.11 1219.47 1229.86 1240.24 1250.63 1255.76 1261.01 1271.05 1276.42 1286.80 1297.19 1307.57" y="650.99" font-size="18.29" fill="#000">ChatGPT UI Boundary Friction as a Constraint on Round-Trip Knowledge Engineering (2025-12-20T10:28Z) (h:216, a:155)</text><text transform="scale(1.08353,1)" x="162.89 173.51 183.54 189.20 193.70 203.50 213.08 217.58 227.15 237.19 242.38 254.84 264.87 274.45 284.49 288.99 298.91 309.17 324.86 334.90 345.17 351.51 356.70 366.62 372.28 377.47 388.77 398.70 409.08 419.35 423.84 430.19 434.69 444.26 454.30 459.49 473.45 483.49 499.18 509.10 513.60 522.02 531.94 538.29 542.78 552.71 562.97 568.28 573.47 585.93 595.85 606.12 616.50 621.00 625.50 635.77 646.15 651.34 662.65 672.57 682.95 693.22 703.14 709.48 719.52 727.94 733.13 743.06 751.48 756.67 766.59 771.78 779.86 784.36 791.16 799.58 805.93 811.81 823.12 827.62 837.54 845.96 854.38 859.57 870.88 880.80 891.18 901.45 905.95 912.29 916.79 926.37 936.40 941.60 952.90 962.82 973.09 981.51 987.86 994.66 1004.93 1013.81 1020.16 1025.35 1031.69 1041.96 1052.23 1062.50 1072.76 1078.65 1088.91 1099.18 1105.07 1115.33 1125.60 1135.52 1145.79 1156.06 1161.36 1171.63 1181.90 1192.86 1199.09 1204.28 1210.62 1220.89 1226.20 1236.46 1246.73 1251.81 1257.00 1266.92 1272.23 1282.49 1292.76" y="717.32" font-size="18.29" fill="#000">Reflexive Development of Cognitive Memoisation: Dangling Cognates as a First-Class Cognitive Construct (2025-12-22T00:00Z) (h:40, a:26)</text><text transform="scale(1.08342,1)" x="722.94 734.25 744.17 754.56 764.82 769.32 775.67 780.17 789.74 799.78 804.97 818.93 828.97 844.66 854.59 859.09 867.51 877.43 883.78 888.28 898.20 908.47 913.66 924.96 934.89 941.69 951.96 962.23 970.65 975.85 989.81 999.73 1010.00 1015.19 1021.53 1031.80 1042.07 1052.34 1062.61 1068.49 1078.76 1089.03 1094.91 1105.18 1115.45 1125.37 1135.64 1145.91 1151.22 1161.48 1171.75 1182.71 1188.94 1194.14 1200.48 1210.75 1216.06 1226.33 1236.59 1246.86 1251.94 1257.13 1267.05 1272.36 1282.63 1292.90" y="783.65" font-size="18.29" fill="#000">Cognitive Memoisation Corpus Map (2025-12-22T19:10Z) (h:194, a:93)</text><text transform="scale(1.08401,1)" x="367.16 379.61 389.53 399.79 410.17 414.67 419.16 429.43 439.80 444.99 456.29 466.21 476.59 486.85 496.77 503.11 513.14 521.56 526.86 532.05 541.62 548.08 558.11 566.53 576.56 583.37 592.94 597.44 607.70 618.08 623.27 635.03 645.29 651.75 661.78 670.20 680.12 684.61 694.18 704.22 714.59 719.78 730.39 740.65 750.57 763.83 768.33 778.36 788.74 799.12 809.15 814.34 818.84 829.10 834.29 845.59 855.51 865.88 876.15 880.64 886.99 891.48 901.05 911.09 916.28 930.23 940.26 955.94 965.86 970.36 978.78 988.69 995.03 999.53 1009.45 1019.71 1024.90 1031.24 1041.51 1051.77 1062.03 1072.29 1078.18 1088.44 1098.70 1104.58 1114.84 1125.11 1135.02 1145.29 1155.55 1160.85 1171.12 1181.38 1192.34 1198.56 1203.75 1210.09 1220.36 1225.66 1235.92 1246.19 1251.26 1256.45 1266.37 1271.67 1281.93 1292.20" y="849.98" font-size="18.29" fill="#000">Dangling Cognates: Preserving Unresolved Knowledge in Cognitive Memoisation (2025-12-28T06:55Z) (h:51, a:72)</text><text transform="scale(1.07010,1)" x="291.80 301.14 311.19 319.71 326.14 332.10 344.36 354.41 363.40 368.66 380.10 394.24 399.50 410.24 420.40 429.40 439.44 449.14 459.30 466.19 475.89 481.15 492.59 502.64 507.20 511.75 521.80 532.19 540.72 550.88 556.14 568.05 578.45 588.96 599.13 606.02 611.27 623.19 627.98 633.23 644.57 654.61 665.01 675.40 685.92 695.96 702.85 712.55 717.81 725.98 732.88 737.43 746.43 752.85 757.41 767.45 777.85 783.22 788.48 799.69 804.95 817.21 827.38 837.89 847.93 854.36 858.91 868.61 878.77 884.03 894.78 904.94 913.47 923.86 928.42 934.84 940.10 951.55 961.59 970.12 980.28 985.54 995.93 1002.36 1012.76 1023.27 1032.96 1038.22 1044.64 1055.04 1065.44 1075.83 1086.23 1092.19 1102.58 1112.98 1118.94 1129.33 1139.73 1149.78 1160.17 1170.57 1175.94 1186.34 1196.73 1207.83 1214.14 1219.39 1225.82 1236.22 1241.59 1251.99 1262.38 1267.52 1272.78 1282.82 1288.20 1298.59 1308.99" y="916.31" font-size="18.29" fill="#000">Post-Hoc CM Recovery Collapse Under UI Boundary Friction: A Negative Result Case Study (2025-12-29T00:00Z) (h:43, a:36)</text><text transform="scale(1.08215,1)" x="226.98 237.61 247.65 253.31 257.82 267.64 277.23 281.73 291.32 301.37 306.56 319.04 329.09 338.68 348.73 353.23 363.17 373.45 389.16 399.20 409.48 415.84 421.04 430.97 436.63 441.83 453.15 463.08 473.48 483.76 488.26 494.62 499.12 508.71 518.76 523.96 537.93 547.98 563.69 573.63 578.13 586.56 596.50 602.85 607.35 617.29 627.57 632.88 638.08 649.17 654.37 664.99 674.93 685.21 695.49 705.88 710.27 717.78 724.60 729.10 739.38 744.58 755.90 765.83 776.23 786.51 791.02 797.37 801.87 811.46 821.51 826.71 836.87 847.15 857.55 862.06 872.34 882.39 892.43 899.25 903.75 914.03 924.43 929.63 940.95 950.88 959.32 969.36 974.56 984.84 991.20 1001.48 1011.87 1021.46 1026.66 1033.01 1043.29 1053.57 1063.85 1074.13 1080.02 1090.30 1100.58 1106.48 1116.76 1127.04 1136.97 1147.25 1157.53 1162.84 1173.13 1183.41 1194.38 1200.62 1205.81 1212.17 1222.45 1227.76 1238.04 1248.32 1253.40 1258.60 1268.54 1273.85 1284.13 1294.41" y="982.64" font-size="18.29" fill="#000">Reflexive Development of Cognitive Memoisation: A Round-Trip Cognitive Engineering Case Study (2025-12-29T00:00Z) (h:44, a:30)</text><text transform="scale(1.07859,1)" x="3.48 11.59 18.08 28.05 43.81 49.02 60.84 65.59 70.81 78.57 88.54 93.06 97.58 107.90 114.39 124.47 129.68 136.06 146.02 151.24 160.05 170.01 180.44 184.96 193.89 203.85 208.37 213.59 223.79 234.10 240.48 247.31 257.28 267.59 283.36 293.44 303.75 310.13 315.46 320.67 331.80 337.01 348.37 358.34 366.80 376.88 382.10 392.41 398.78 409.10 419.53 429.15 434.36 438.88 449.20 454.41 463.68 473.65 482.11 488.48 494.39 506.56 516.53 525.45 530.67 542.03 551.99 562.42 572.74 577.26 583.63 588.15 597.77 607.85 613.07 627.09 637.17 652.93 662.90 667.42 675.88 685.85 692.22 696.74 706.71 717.02 722.24 732.78 738.23 744.60 754.69 761.53 766.74 776.94 786.56 796.87 801.39 811.36 818.20 828.16 834.54 844.50 851.34 860.96 866.18 876.49 886.57 895.03 903.49 908.01 917.98 928.29 933.51 944.75 951.24 961.32 971.29 980.79 991.22 1001.19 1014.52 1024.83 1030.05 1036.42 1046.73 1057.05 1067.36 1077.68 1083.59 1093.90 1104.22 1110.13 1120.44 1130.76 1140.72 1151.04 1161.35 1166.68 1177.00 1187.31 1198.32 1204.58 1209.79 1216.17 1226.48 1231.81 1242.13 1252.44 1257.54 1262.76 1272.72 1278.05 1288.37 1298.68" y="1048.97" font-size="18.29" fill="#000">From UI Failure to Logical Entrapment: A Case Study in Post-Hoc Cognitive Memoisation After Exploratory Session Breakdown (2025-12-30T01:53Z) (h:58, a:22)</text><text transform="scale(1.07860,1)" x="285.44 296.80 306.76 317.19 327.51 332.03 338.40 342.92 352.54 362.62 367.84 381.86 391.94 407.70 417.67 422.19 430.65 440.62 446.99 451.51 461.48 471.79 477.12 482.34 491.38 500.42 514.44 519.66 529.97 539.59 548.05 554.42 564.51 580.27 588.73 593.94 604.60 614.69 625.12 635.43 639.95 646.44 656.52 672.28 682.37 692.68 699.06 707.52 712.73 718.41 728.38 735.21 740.43 751.09 761.40 771.37 784.70 789.22 799.30 809.73 820.16 830.24 835.46 846.12 856.09 866.40 876.72 887.15 892.36 899.89 906.73 911.25 921.57 926.78 936.98 947.29 957.72 962.24 972.56 982.64 992.72 999.56 1004.08 1014.39 1024.83 1030.04 1036.41 1046.73 1057.04 1067.36 1077.67 1083.58 1093.90 1104.21 1110.12 1120.44 1130.75 1140.72 1151.03 1161.34 1166.68 1176.99 1187.30 1198.31 1204.57 1209.79 1216.16 1226.48 1231.81 1242.12 1252.44 1257.53 1262.75 1272.72 1278.05 1288.36 1298.68" y="1115.30" font-size="18.29" fill="#000">Cognitive Memoisation: LLM Systems Requirements for Knowledge Round Trip Engineering (2025-12-30T07:02Z) (h:44, a:33)</text><text transform="scale(1.07627,1)" x="486.17 500.22 510.21 517.06 526.01 536.11 542.50 547.72 558.06 568.40 575.25 584.89 594.99 603.47 608.82 614.04 623.33 633.32 640.17 646.56 656.55 666.89 671.42 675.94 680.47 686.86 696.50 701.73 711.72 717.41 722.63 734.02 748.07 753.30 763.63 773.74 789.53 799.52 809.86 816.24 820.77 829.72 838.19 843.42 854.34 863.28 869.79 879.77 888.25 896.73 901.96 911.02 920.07 934.13 939.35 949.23 953.76 963.74 970.13 975.82 985.81 992.43 1008.23 1016.70 1021.93 1028.32 1038.66 1048.99 1059.33 1069.67 1075.59 1085.93 1096.26 1102.19 1112.52 1122.86 1132.85 1143.18 1153.52 1158.86 1169.20 1179.54 1190.57 1196.84 1202.07 1208.45 1218.79 1224.13 1234.47 1244.81 1255.14 1260.25 1265.48 1275.47 1280.81 1291.15 1301.48" y="1181.63" font-size="18.29" fill="#000">Market Survey: Portability of CM Semantics Across LLM Platforms (2025-12-30T18:29Z) (h:121, a:60)</text><text transform="scale(1.07085,1)" x="-2.33 8.87 21.48 33.38 47.51 57.43 62.68 72.72 81.24 86.50 96.54 101.79 115.91 120.46 130.85 135.41 151.28 161.32 165.87 171.13 181.86 192.02 201.01 211.05 220.74 230.89 237.78 247.47 252.72 266.84 277.00 285.99 296.38 306.41 316.80 321.36 329.88 345.75 351.01 356.72 366.76 373.65 378.90 389.64 399.68 410.07 420.46 430.96 435.40 442.99 449.87 454.43 464.82 470.07 480.81 491.20 501.24 514.66 519.21 529.37 539.87 550.38 560.53 565.79 576.06 586.45 596.95 601.51 611.90 622.05 632.21 639.09 643.65 654.03 664.54 669.79 681.70 692.09 702.59 712.75 719.64 724.89 737.50 747.53 757.22 767.38 774.03 784.42 794.46 804.85 813.84 823.99 829.25 839.63 844.19 850.61 861.00 871.03 877.45 887.61 898.12 903.37 908.15 918.54 924.26 934.42 940.96 951.11 961.50 970.49 980.64 985.90 994.77 1004.81 1013.33 1021.85 1027.10 1033.52 1043.91 1054.30 1064.69 1075.08 1081.03 1091.42 1101.81 1107.76 1118.15 1128.54 1138.58 1148.97 1159.36 1164.73 1175.11 1185.50 1196.59 1202.90 1208.15 1214.57 1224.96 1230.33 1240.72 1251.11 1256.24 1261.49 1271.53 1276.90 1287.29 1297.68 1308.07" y="1247.96" font-size="18.29" fill="#000">XDUMP as a Minimal Recovery Mechanism for Round-Trip Knowledge Engineering Under Governance Situated Inference Loss (2025-12-31T09:56Z) (h:94, a:123)</text><text transform="scale(1.08872,1)" x="844.45 855.70 869.60 875.45 879.93 884.41 894.63 901.40 911.27 918.05 927.35 933.20 943.54 953.52 963.74 970.17 980.16 989.00 998.88 1005.19 1015.18 1025.51 1030.68 1036.99 1047.21 1057.43 1067.65 1077.87 1083.72 1093.94 1104.16 1110.01 1120.23 1130.45 1140.33 1150.54 1160.76 1166.04 1176.26 1186.48 1197.39 1203.59 1208.75 1215.07 1225.29 1230.57 1240.79 1251.01 1256.06 1261.22 1271.10 1276.38 1286.60" y="1314.29" font-size="18.29" fill="#000">CM-library-deprecated (2026-01-01T13:23Z) (h:20, a:1)</text><text transform="scale(1.08602,1)" x="380.98 385.70 395.60 405.84 412.40 422.64 432.66 441.06 446.35 451.53 463.62 473.86 489.52 499.41 509.66 515.53 524.28 534.29 544.65 549.83 561.11 571.01 581.25 590.80 600.82 607.38 617.74 627.75 637.99 646.86 656.87 662.05 666.54 676.78 681.96 688.29 698.54 708.55 713.73 724.78 731.57 737.90 742.39 751.25 761.50 765.98 775.88 782.21 786.70 796.60 806.84 812.02 821.92 827.56 832.74 844.02 853.92 864.28 874.52 879.01 885.34 889.83 899.38 909.40 914.58 928.50 938.52 954.17 964.07 968.56 976.96 986.86 993.19 997.68 1007.58 1017.82 1023.00 1029.33 1039.57 1049.82 1060.06 1070.31 1076.18 1086.42 1096.66 1102.53 1112.78 1123.02 1132.92 1143.16 1153.41 1158.70 1168.95 1179.19 1190.12 1196.34 1201.52 1207.85 1218.09 1223.39 1233.63 1243.88 1248.94 1254.12 1264.02 1269.31 1279.56 1289.80" y="1380.62" font-size="18.29" fill="#000">Journey: Human-Led Convergence in the Articulation of Cognitive Memoisation (2026-01-04T03:49Z) (h:64, a:41)</text><text transform="scale(1.09053,1)" x="758.12 769.35 783.22 788.38 799.61 809.47 819.67 829.53 839.73 844.20 848.67 853.14 859.44 868.96 874.11 882.48 892.68 899.45 908.96 918.93 928.45 933.60 938.07 948.28 957.79 967.65 974.41 978.88 988.74 998.94 1005.24 1013.61 1018.77 1025.07 1035.27 1045.48 1055.68 1065.88 1071.72 1081.93 1092.13 1097.97 1108.17 1118.38 1128.23 1138.44 1148.64 1153.91 1164.11 1174.31 1185.20 1191.39 1196.55 1202.85 1213.05 1218.33 1228.53 1238.73 1243.77 1248.93 1258.79 1264.06 1274.26 1284.46" y="1446.95" font-size="18.29" fill="#000">CM Capability survey invariants (2026-01-04T14:53Z) (h:34, a:75)</text><text transform="scale(1.08269,1)" x="356.63 367.95 377.88 388.27 398.54 403.05 409.40 413.90 423.48 433.53 438.72 452.69 462.74 478.44 488.37 492.87 501.30 511.23 517.58 522.08 532.01 542.28 547.48 553.83 565.14 579.11 585.00 595.28 601.51 606.71 612.36 622.29 629.10 634.30 646.77 656.70 666.28 676.32 682.91 693.18 697.68 707.96 718.35 723.55 734.17 744.44 754.37 767.65 772.15 782.20 792.59 802.98 813.02 818.22 822.72 832.99 838.19 850.31 860.59 876.29 886.22 896.49 902.04 913.12 917.85 923.05 934.36 944.29 948.79 953.30 963.23 973.50 983.43 990.24 1000.17 1006.52 1011.02 1020.95 1031.23 1036.42 1042.77 1053.05 1063.32 1073.60 1083.87 1089.76 1100.04 1110.31 1116.20 1126.48 1136.75 1146.68 1156.96 1167.23 1172.54 1182.82 1193.09 1204.06 1210.30 1215.49 1221.84 1232.12 1237.43 1247.70 1257.98 1263.06 1268.25 1278.18 1283.49 1293.77" y="1513.28" font-size="18.29" fill="#000">Cognitive Memoisation (CM-2) for Governing Knowledge in Human-AI Collaboration (2026-01-06T03:56Z) (h:97, a:4)</text><text transform="scale(1.08378,1)" x="452.70 464.00 473.92 484.30 494.56 499.06 505.41 509.90 519.48 529.51 534.70 548.66 558.69 574.38 584.30 588.79 597.21 607.13 613.48 617.98 627.89 638.16 643.35 649.69 661.00 674.95 681.18 686.37 695.94 706.21 716.47 720.97 725.47 734.35 739.54 749.81 756.15 766.07 772.41 782.45 798.13 808.17 818.43 824.77 829.96 839.88 850.15 860.53 865.72 875.98 882.33 892.36 905.63 915.54 922.12 932.50 940.92 951.18 955.68 965.95 971.14 985.09 995.01 1005.39 1015.43 1019.92 1025.11 1031.46 1041.72 1051.99 1062.25 1072.52 1078.40 1088.67 1098.93 1104.81 1115.08 1125.34 1135.26 1145.53 1155.79 1161.10 1171.36 1181.63 1192.58 1198.81 1204.00 1210.35 1220.61 1225.92 1236.18 1246.45 1251.52 1256.71 1266.63 1271.94 1282.20 1292.47" y="1579.61" font-size="18.29" fill="#000">Cognitive Memoisation (CM) Public Statement and Stewardship Model (2026-01-06T04:12Z) (h:68, a:44)</text><text transform="scale(1.06746,1)" x="576.02 586.32 596.75 601.31 609.86 619.93 630.47 635.04 644.05 649.32 657.17 667.24 671.81 676.37 686.80 693.35 703.54 708.81 720.29 730.36 738.91 749.09 754.36 764.79 771.23 781.65 792.19 800.74 806.12 811.39 820.99 825.56 835.75 846.29 852.26 856.83 867.25 873.22 883.29 889.26 900.04 910.46 920.53 926.97 932.24 943.72 954.14 964.32 972.87 981.42 986.69 999.34 1009.41 1025.33 1035.52 1040.79 1047.23 1057.65 1068.08 1078.50 1088.92 1094.89 1105.31 1115.74 1121.71 1132.13 1142.55 1152.62 1163.04 1173.47 1178.85 1189.28 1199.70 1210.82 1217.15 1222.41 1228.86 1239.28 1244.66 1255.09 1265.51 1270.66 1275.93 1286.00 1291.39 1301.81 1312.23" y="1645.94" font-size="18.29" fill="#000">Episodic Failure Case Study: Tied-in-a-Knot Chess Game (2026-01-07T13:02Z) (h:33, a:19)</text><text transform="scale(1.08742,1)" x="613.72 629.59 639.82 649.36 654.53 665.79 675.68 686.03 696.26 700.74 707.06 711.55 721.09 731.09 736.26 750.17 760.17 775.80 785.69 790.17 798.56 808.45 814.77 819.25 829.14 839.37 844.54 849.26 857.65 862.82 874.89 884.78 891.10 896.27 910.18 920.18 935.81 945.70 952.48 956.97 965.47 975.36 981.68 986.16 996.05 1006.28 1011.45 1017.77 1028.00 1038.24 1048.47 1058.70 1064.56 1074.79 1085.02 1090.88 1101.11 1111.34 1121.23 1131.46 1141.69 1146.98 1157.21 1167.44 1178.36 1184.57 1189.74 1196.06 1206.29 1211.58 1221.81 1232.04 1242.27 1247.33 1252.50 1262.39 1267.68 1277.91 1288.14" y="1712.27" font-size="18.29" fill="#000">Why Cognitive Memoisation Is Not Memorization (2026-01-07T23:28Z) (h:128, a:57)</text><text transform="scale(1.09596,1)" x="383.45 394.40 403.41 413.33 421.66 426.79 436.60 442.19 447.32 458.27 468.42 474.70 484.85 494.66 501.38 505.83 512.11 521.57 526.70 531.15 541.30 546.44 556.59 562.86 572.67 578.94 588.86 593.31 603.24 611.56 619.89 625.02 636.20 646.01 656.27 666.42 670.87 677.14 681.59 691.06 700.98 706.11 716.26 725.73 734.06 740.33 750.25 765.76 774.09 779.34 784.47 795.42 805.57 811.84 821.99 831.80 838.53 842.98 849.25 858.72 863.85 868.53 876.85 881.99 893.96 903.77 910.04 915.18 919.85 930.00 936.28 946.20 950.65 955.09 959.54 969.81 979.73 989.88 998.66 1008.59 1013.72 1019.99 1030.14 1040.29 1050.44 1060.60 1066.41 1076.56 1086.71 1092.53 1102.68 1112.83 1122.64 1132.79 1142.94 1148.19 1158.34 1168.49 1179.33 1185.49 1190.62 1196.89 1207.04 1212.29 1222.44 1232.59 1237.61 1242.74 1252.55 1257.80 1267.95 1278.10" y="1778.60" font-size="18.29" fill="#000">Axes of Authority in Stateless Cognitive Systems: Authority Is Not Intelligence (2026-01-07T23:39Z) (h:36, a:74)</text><text transform="scale(1.07135,1)" x="858.73 872.85 888.95 901.55 913.45 927.57 937.14 943.09 958.96 968.99 977.51 983.93 994.08 999.91 1005.86 1016.25 1021.38 1031.76 1042.15 1047.40 1053.82 1064.20 1074.58 1084.97 1095.35 1101.30 1111.69 1122.07 1128.02 1138.41 1148.79 1158.82 1169.21 1179.59 1184.96 1195.34 1205.73 1216.81 1223.11 1228.36 1234.78 1245.16 1250.53 1260.91 1271.30 1276.43 1281.68 1291.72 1297.08 1307.47" y="1844.93" font-size="18.29" fill="#000">MWDUMP-master-1.11 (2026-01-09T01:33Z) (h:10, a:1)</text><text transform="scale(1.06528,1)" x="934.15 944.24 958.44 967.59 980.26 992.23 1006.43 1016.05 1022.03 1032.48 1037.64 1048.08 1058.53 1063.81 1070.26 1080.70 1091.15 1101.59 1112.03 1118.02 1128.46 1138.91 1144.89 1155.33 1165.78 1175.87 1186.31 1196.75 1202.15 1212.60 1223.04 1234.19 1240.52 1245.80 1252.26 1262.70 1268.10 1278.54 1283.70 1288.98 1299.08 1304.47 1314.92" y="1911.26" font-size="18.29" fill="#000">TMLDUMP-1.11 (2026-01-09T01:35Z) (h:5, a:1)</text><text transform="scale(1.08457,1)" x="289.40 299.54 309.11 315.45 325.47 332.04 342.30 352.21 356.71 361.20 369.62 379.64 390.02 395.20 409.15 419.17 429.09 439.34 443.84 454.10 464.47 469.77 474.96 488.90 498.81 508.26 512.76 523.02 533.39 538.58 549.18 559.44 569.35 582.60 587.10 597.12 607.50 617.87 627.90 633.08 642.30 652.22 659.02 665.35 675.27 685.52 690.02 700.05 705.23 720.79 725.29 731.62 741.88 751.79 762.05 768.39 773.58 786.37 796.63 802.97 812.88 817.37 827.28 837.66 842.15 852.18 860.59 865.66 870.85 880.65 890.67 900.93 911.30 921.22 928.02 936.43 941.61 951.53 958.33 963.51 977.46 987.49 1003.16 1013.07 1019.87 1029.44 1034.62 1040.96 1051.22 1061.48 1071.74 1081.99 1087.87 1098.13 1108.39 1114.26 1124.52 1134.78 1144.69 1154.95 1165.21 1170.51 1180.76 1191.02 1201.97 1208.19 1213.38 1219.72 1229.98 1235.28 1245.54 1255.79 1260.86 1266.05 1275.96 1281.26 1291.52" y="1977.59" font-size="18.29" fill="#000">Externalised Meaning: Making Knowledge Portable Without Ontologies, Vendors or Memory (2026-01-09T12:40Z) (h:36, a:2)</text><text transform="scale(1.08439,1)" x="152.74 164.03 173.95 184.21 190.55 200.34 209.91 216.25 221.44 225.93 234.35 239.54 251.64 261.55 267.89 273.08 277.81 288.07 296.48 302.82 308.01 317.92 323.11 338.67 343.17 353.42 363.80 373.71 386.05 391.35 396.54 407.83 417.75 428.12 438.38 442.88 449.22 453.71 463.28 473.31 478.50 492.44 502.47 518.15 528.06 532.56 540.97 550.89 557.23 561.72 571.64 581.89 587.08 597.00 605.41 610.60 620.51 625.70 636.99 646.91 657.17 663.51 673.31 682.87 689.21 694.40 705.47 711.92 720.80 731.06 735.55 741.89 751.92 760.80 767.14 777.40 783.85 793.88 799.07 804.72 814.63 821.43 826.62 838.72 848.98 864.66 874.57 884.83 890.36 901.43 906.16 911.34 922.64 932.55 937.05 941.54 951.46 961.72 971.63 978.43 988.34 994.68 999.18 1009.09 1019.35 1024.54 1030.88 1041.14 1051.40 1061.66 1071.92 1077.80 1088.06 1098.31 1104.19 1114.45 1124.71 1134.63 1144.88 1155.14 1160.45 1170.71 1180.96 1191.92 1198.14 1203.33 1209.67 1219.93 1225.23 1235.49 1245.75 1250.82 1256.01 1265.92 1271.22 1281.48 1291.74" y="2043.92" font-size="18.29" fill="#000">Context is Not Just a Window: Cognitive Memoisation as a Context Architecture for Human-AI Collaboration (2026-01-09T23:18Z) (h:40, a:26)</text><text transform="scale(1.08308,1)" x="523.50 534.81 544.74 553.17 563.21 568.40 578.67 585.02 595.29 605.68 615.26 620.45 626.34 631.53 647.46 657.73 667.77 678.04 683.23 689.58 699.85 709.89 715.09 727.21 737.48 753.17 763.10 773.37 778.56 790.68 800.61 809.03 814.23 820.57 830.50 835.69 846.77 853.35 863.74 874.01 884.05 889.24 904.82 909.32 915.67 925.94 931.14 937.48 947.76 957.80 962.99 976.95 986.88 995.77 1006.04 1010.54 1020.81 1030.85 1036.05 1042.39 1052.66 1062.94 1073.21 1083.48 1089.37 1099.64 1109.91 1115.79 1126.07 1136.34 1146.26 1156.53 1166.81 1172.11 1182.39 1192.66 1203.62 1209.85 1215.05 1221.40 1231.67 1236.98 1247.25 1257.52 1262.60 1267.79 1277.72 1283.02 1293.30" y="2110.25" font-size="18.29" fill="#000">Case Study - When the Human Has to Argue With the Machine (2026-01-10T01:17Z) (h:59, a:3)</text><text transform="scale(1.08354,1)" x="515.21 527.32 537.24 543.59 553.85 558.35 568.62 579.00 584.20 588.93 597.35 602.54 611.31 621.23 629.65 635.99 641.30 646.49 658.60 668.53 681.79 686.98 693.33 703.25 708.44 723.44 733.36 740.17 749.62 754.82 768.08 772.58 778.93 789.19 794.39 805.46 810.19 815.38 830.96 835.45 841.80 852.07 861.99 872.26 878.60 883.79 892.56 902.48 910.90 915.40 925.67 936.05 941.24 948.86 958.78 969.04 975.85 981.04 995.00 999.50 1009.77 1020.15 1025.34 1031.69 1041.95 1052.22 1062.49 1072.75 1078.64 1088.91 1099.17 1105.06 1115.32 1125.59 1135.51 1145.78 1156.05 1161.35 1171.62 1181.89 1192.85 1199.08 1204.27 1210.61 1220.88 1226.19 1236.45 1246.72 1251.80 1256.99 1266.91 1272.22 1282.48 1292.75" y="2176.58" font-size="18.29" fill="#000">Nothing Is Lost: How to Work with AI Without Losing Your Mind (2026-01-10T16:04Z) (h:42, a:36)</text><text transform="scale(1.09069,1)" x="313.33 325.71 335.91 342.67 352.53 362.73 367.20 371.67 376.14 382.44 391.95 397.11 412.58 417.05 423.36 433.56 443.41 453.61 459.92 465.07 476.08 486.28 492.58 502.78 512.64 519.40 523.87 530.17 538.54 543.81 548.97 558.82 569.02 578.99 584.15 598.02 602.49 610.85 619.22 623.69 633.89 644.20 649.36 661.74 671.59 681.11 691.08 697.61 707.81 717.67 727.87 736.69 746.66 751.82 760.76 770.61 780.13 790.10 796.86 802.02 806.49 816.69 821.84 833.88 844.08 859.66 869.52 879.72 885.22 896.22 900.92 906.08 917.31 927.17 931.64 936.11 945.96 956.16 966.02 972.78 982.64 988.94 993.41 1003.27 1013.47 1018.62 1024.93 1035.13 1045.33 1055.53 1065.73 1071.57 1081.77 1091.97 1097.82 1108.02 1118.22 1128.07 1138.27 1148.47 1153.74 1163.94 1174.14 1185.03 1191.22 1196.38 1202.68 1212.88 1218.15 1228.35 1238.55 1243.60 1248.75 1258.61 1263.88 1274.08 1284.28" y="2242.91" font-size="18.29" fill="#000">Durability Without Authority: The Missing Governance Layer in Human-AI Collaboration (2026-01-11T08:27Z) (h:28, a:65)</text><text transform="scale(1.09324,1)" x="516.24 527.22 537.39 543.68 553.86 563.69 570.44 574.89 581.18 590.67 595.82 600.51 610.68 620.17 630.12 636.87 645.21 649.67 659.50 669.68 674.94 680.09 691.06 696.21 706.38 712.67 719.42 729.59 738.40 744.69 754.86 761.61 771.44 775.90 781.05 788.71 798.54 803.00 807.46 817.64 824.04 833.99 839.13 843.59 853.77 858.91 870.92 881.09 896.64 906.48 916.65 922.14 933.12 937.80 942.95 953.13 962.62 970.96 977.25 987.20 1002.75 1011.10 1016.24 1022.53 1032.71 1042.88 1053.06 1063.23 1069.07 1079.24 1089.42 1095.25 1105.43 1115.60 1125.43 1135.61 1145.79 1151.05 1161.22 1171.40 1182.26 1188.44 1193.58 1199.87 1210.05 1215.30 1225.48 1235.66 1240.69 1245.83 1255.67 1260.93 1271.10 1281.28" y="2309.24" font-size="18.29" fill="#000">Authority Inversion: A Structural Failure in Human-AI Systems (2026-01-11T11:22Z) (h:61, a:57)</text><text transform="scale(1.08354,1)" x="415.54 431.46 441.73 451.76 462.03 467.22 474.72 481.53 491.45 495.95 506.21 510.71 520.98 531.36 536.55 549.36 558.93 568.97 575.55 582.35 586.85 597.23 607.27 615.69 620.88 629.65 639.57 649.96 654.45 663.34 668.64 673.84 689.76 700.02 709.60 714.79 727.25 737.29 746.17 750.67 760.59 767.05 777.09 787.47 792.66 797.39 807.66 817.23 827.15 833.96 838.46 848.38 858.65 864.99 873.41 878.61 893.60 903.64 910.10 920.14 925.33 937.44 947.36 953.71 958.90 969.05 979.32 989.24 999.51 1009.89 1020.16 1025.35 1031.69 1041.96 1052.23 1062.49 1072.76 1078.64 1088.91 1099.18 1105.06 1115.33 1125.60 1135.52 1145.79 1156.05 1161.36 1171.63 1181.89 1192.85 1199.08 1204.28 1210.62 1220.89 1226.19 1236.46 1246.73 1251.80 1257.00 1266.92 1272.22 1282.49 1292.76" y="2375.57" font-size="18.29" fill="#000">When Training Overrides Logic: Why Declared Invariants Were Not Enough (2026-01-11T11:23Z) (h:29, a:30)</text><text transform="scale(1.08665,1)" x="720.10 731.37 741.27 751.62 761.86 766.34 772.67 777.16 786.70 796.71 801.89 815.81 825.81 841.46 851.35 855.84 864.24 874.13 880.46 884.94 894.83 905.07 910.25 914.96 923.36 928.54 940.62 950.51 956.84 962.01 972.25 981.11 990.66 1000.89 1010.90 1017.23 1022.40 1028.73 1038.97 1049.21 1059.45 1069.68 1075.55 1085.79 1096.03 1101.89 1112.13 1122.37 1132.26 1142.50 1152.74 1158.03 1168.27 1178.50 1189.43 1195.64 1200.82 1207.15 1217.38 1222.68 1232.91 1243.15 1248.21 1253.39 1263.28 1268.57 1278.81 1289.05" y="2441.90" font-size="18.29" fill="#000">Cognitive Memoisation Is Not Skynet (2026-01-12T08:16Z) (h:43, a:45)</text><text transform="scale(1.08154,1)" x="161.11 169.90 179.84 189.78 200.06 204.57 214.85 225.26 230.46 236.81 247.10 257.16 262.36 271.14 281.08 291.02 301.31 306.51 319.80 324.31 330.66 340.95 346.15 358.28 368.22 373.42 383.60 393.88 404.28 409.48 413.99 424.28 429.48 439.77 444.27 454.67 464.96 471.32 476.63 481.83 493.16 497.67 504.14 513.04 523.33 527.83 537.77 544.59 549.79 560.43 570.48 580.42 588.86 598.80 609.08 613.59 623.88 634.28 639.48 651.27 661.55 671.96 682.01 688.83 694.03 704.32 710.67 720.61 726.97 737.03 741.53 751.59 760.02 768.46 773.66 778.40 788.69 794.35 804.41 810.88 820.93 831.22 840.12 850.17 855.37 870.98 875.48 881.84 892.13 902.07 912.35 918.71 923.91 936.39 946.33 955.93 965.98 972.57 982.85 992.79 1003.08 1011.98 1022.03 1027.24 1033.59 1043.88 1054.16 1064.45 1074.74 1080.63 1090.92 1101.20 1107.10 1117.38 1127.67 1137.61 1147.90 1158.18 1163.50 1173.79 1184.07 1195.05 1201.29 1206.49 1212.85 1223.14 1228.45 1238.74 1249.03 1254.11 1259.31 1269.25 1274.57 1284.85 1295.14" y="2508.23" font-size="18.29" fill="#000">Looping the Loop with No End in Sight: Circular Reasoning Under Stateless Inference Without Governance (2026-01-12T09:49Z) (h:40, a:27)</text><text transform="scale(1.09295,1)" x="36.37 50.21 60.16 68.96 79.14 88.98 99.16 103.62 112.43 122.26 126.72 131.87 141.93 151.43 157.72 164.46 174.30 183.11 189.40 193.86 203.69 213.87 219.02 228.85 234.46 239.60 249.44 259.62 269.46 279.63 289.93 300.11 306.40 311.66 316.80 327.90 337.73 347.57 353.86 362.21 368.50 375.25 385.08 395.26 405.44 409.90 420.08 430.37 435.52 445.58 455.76 460.22 468.57 474.86 484.81 500.37 504.83 513.63 518.78 531.48 541.66 546.12 556.07 564.87 571.16 579.51 584.66 590.26 596.67 606.50 622.06 627.20 637.38 647.33 657.63 667.81 677.76 687.93 694.22 698.69 708.52 712.98 718.13 722.82 733.00 743.17 753.35 759.64 764.79 774.97 785.15 795.44 805.39 812.14 817.29 828.49 838.33 848.62 858.80 863.26 869.55 874.01 883.51 893.46 898.60 912.44 922.39 937.95 947.78 952.24 960.59 970.43 976.72 981.18 991.01 1001.19 1006.34 1012.63 1022.81 1032.99 1043.17 1053.35 1059.18 1069.36 1079.54 1085.37 1095.55 1105.73 1115.56 1125.74 1135.92 1141.18 1151.36 1161.54 1172.40 1178.58 1183.73 1190.02 1200.20 1205.46 1215.64 1225.82 1230.85 1235.99 1245.83 1251.09 1261.27 1271.45 1281.63" y="2574.56" font-size="18.29" fill="#000">Mechanical Extraction of Thought: Bootstrapping Epistemic Objects from Sequential Input under Cognitive Memoisation (2026-01-12T23:23Z) (h:48, a:169)</text><text transform="scale(1.08225,1)" x="313.58 326.06 330.56 346.27 356.32 366.60 375.03 379.53 389.47 399.75 408.18 413.38 423.31 428.97 434.17 443.98 448.49 458.42 464.77 470.43 480.37 486.95 502.66 507.86 518.02 524.60 531.07 541.00 547.59 552.90 558.10 568.26 578.54 583.05 591.48 597.83 607.88 623.59 628.09 636.98 642.18 652.81 662.86 669.21 679.26 689.54 695.89 700.39 710.33 720.61 725.80 733.54 743.48 747.98 752.48 762.76 769.23 779.28 784.48 788.98 799.26 804.46 815.78 825.71 835.99 845.58 855.63 862.44 870.87 880.81 887.16 891.66 901.60 911.88 921.81 926.31 931.51 942.60 947.33 952.53 962.81 972.40 980.83 987.18 997.23 1012.94 1021.37 1026.57 1032.92 1043.20 1053.48 1063.76 1074.04 1079.93 1090.21 1100.49 1106.38 1116.66 1126.94 1136.87 1147.15 1157.43 1162.74 1173.02 1183.30 1194.27 1200.51 1205.71 1212.06 1222.34 1227.65 1237.93 1248.21 1253.29 1258.49 1268.42 1273.74 1284.02 1294.30" y="2640.89" font-size="18.29" fill="#000">Dimensions of Platform Error: Epistemic Retention Failure in Conversational AI Systems (2026-01-13T23:29Z) (h:29, a:16)</text><text transform="scale(1.07763,1)" x="441.94 450.06 454.59 461.43 469.90 476.28 481.50 491.82 501.91 506.44 511.19 517.11 529.29 539.26 547.73 554.11 558.63 568.96 579.40 584.62 594.82 605.15 609.67 618.14 624.52 634.61 650.39 654.91 663.84 669.06 680.43 690.40 700.73 707.11 717.43 723.93 734.02 739.24 751.07 759.54 764.06 774.39 784.83 790.04 801.41 811.39 821.83 832.15 836.68 843.05 847.58 857.21 867.30 872.52 886.55 896.64 912.42 922.40 926.92 935.39 945.36 951.74 956.27 966.24 976.57 981.79 988.17 999.53 1013.57 1019.48 1029.81 1036.07 1041.29 1047.67 1057.99 1068.32 1078.64 1088.97 1094.88 1105.20 1115.53 1121.44 1131.77 1142.09 1152.07 1162.39 1172.71 1178.05 1188.37 1198.70 1209.72 1215.98 1221.20 1227.58 1237.90 1243.24 1253.56 1263.89 1268.99 1274.21 1284.19 1289.52 1299.84" y="2707.22" font-size="18.29" fill="#000">First Self-Hosting Epistemic Capture Using Cognitive Memoisation (CM-2) (2026-01-15T18:16Z) (h:52, a:4)</text><text transform="scale(1.07958,1)" x="196.72 209.23 219.18 228.79 238.87 245.47 255.77 260.29 270.59 281.01 286.22 292.59 302.90 312.97 318.18 325.36 335.32 345.27 349.79 355.00 364.96 375.26 385.22 391.59 396.80 409.30 419.26 428.87 438.95 445.55 455.85 464.30 469.51 477.16 487.11 497.42 502.74 507.95 519.07 524.28 535.63 549.64 555.54 565.85 571.06 582.41 592.36 600.82 610.89 616.10 626.40 632.77 643.08 653.50 663.11 668.32 678.28 683.95 689.16 700.28 710.58 716.95 727.25 737.21 744.04 748.56 754.93 764.54 769.75 774.49 784.80 794.41 804.48 811.31 819.77 824.28 834.24 844.55 849.76 854.27 864.58 869.79 881.94 892.25 908.00 917.95 928.26 933.82 944.93 949.68 954.89 965.19 974.80 983.26 989.63 999.70 1015.45 1023.90 1029.11 1035.48 1045.78 1056.09 1066.39 1076.70 1082.60 1092.91 1103.21 1109.12 1119.42 1129.73 1139.68 1149.99 1160.29 1165.62 1175.93 1186.23 1197.23 1203.48 1208.69 1215.06 1225.37 1230.69 1241.00 1251.30 1256.40 1261.61 1271.57 1276.89 1287.20 1297.50" y="2773.55" font-size="18.29" fill="#000">Governing the Tool That Governs You: A CM-1 Case Study of Authority Inversion in Human-AI Systems (2026-01-17T02:09Z) (h:41, a:13)</text><text transform="scale(1.08463,1)" x="574.39 579.11 589.49 599.51 609.77 616.11 620.60 626.25 630.74 640.77 651.14 656.33 668.78 678.69 688.25 698.28 704.85 715.11 725.02 735.27 744.15 754.17 759.36 767.08 776.99 781.49 785.98 796.24 802.69 812.72 817.91 828.97 838.07 848.10 856.51 861.81 867.00 872.65 882.56 889.36 894.54 903.53 912.52 926.47 931.65 941.91 946.41 956.32 962.66 968.30 978.21 984.78 1000.46 1008.87 1014.06 1020.39 1030.65 1040.91 1051.16 1061.42 1067.30 1077.56 1087.81 1093.69 1103.95 1114.20 1124.12 1134.37 1144.63 1149.93 1160.19 1170.44 1181.39 1187.62 1192.80 1199.14 1209.40 1214.70 1224.96 1235.21 1240.28 1245.47 1255.38 1260.68 1270.94 1281.20 1291.45" y="2839.88" font-size="18.29" fill="#000">Identified Governance Failure Axes: for LLM platforms (2026-01-18T10:35Z) (h:87, a:129)</text><text transform="scale(1.08992,1)" x="543.73 556.12 566.10 570.57 580.55 590.87 600.73 607.04 611.51 621.38 631.59 636.75 646.61 652.23 657.39 668.40 678.61 684.91 695.12 704.99 711.75 716.22 722.53 732.05 737.21 743.52 753.38 758.54 769.55 774.26 779.42 789.62 799.14 807.52 813.82 823.80 839.40 847.77 853.05 858.21 868.30 877.82 882.29 892.61 902.59 912.80 921.63 931.61 936.77 946.63 956.84 967.16 972.32 983.56 988.03 996.41 1005.81 1014.18 1019.34 1025.65 1035.86 1046.07 1056.27 1066.48 1072.33 1082.54 1092.74 1098.59 1108.80 1119.01 1128.87 1139.08 1149.29 1154.56 1164.77 1174.98 1185.87 1192.06 1197.22 1203.53 1213.74 1219.02 1229.22 1239.43 1244.48 1249.64 1259.50 1264.78 1274.98 1285.19" y="2906.21" font-size="18.29" fill="#000">Delegation of Authority to AI Systems: Evidence and Risks (2026-01-18T19:38Z) (h:36, a:24)</text><text transform="scale(1.09129,1)" x="505.59 510.29 520.48 526.78 536.75 547.06 553.82 558.28 564.58 574.09 579.24 589.10 599.29 609.60 614.75 624.95 634.91 650.49 660.34 670.54 676.84 681.30 690.12 695.28 707.65 714.41 718.87 724.26 730.56 735.71 740.18 750.37 755.53 764.46 774.31 780.84 791.15 801.11 806.27 815.20 825.05 835.25 845.56 855.75 865.60 875.91 885.88 891.03 904.89 914.74 925.05 935.02 939.48 944.64 954.83 964.34 972.70 979.00 988.96 1004.54 1012.90 1018.06 1024.36 1034.55 1044.75 1054.94 1065.14 1070.98 1081.17 1091.37 1097.21 1107.40 1117.60 1127.45 1137.64 1147.84 1153.11 1163.30 1173.49 1184.38 1190.56 1195.72 1202.01 1212.21 1217.48 1227.67 1237.87 1242.91 1248.06 1257.91 1263.18 1273.38 1283.57" y="2972.54" font-size="18.29" fill="#000">Integrity and Semantic Drift in Large Language Model Systems (2026-01-19T00:26Z) (h:80, a:28)</text><text transform="scale(1.07011,1)" x="717.80 733.92 744.32 754.36 760.79 766.05 777.49 787.54 797.93 803.19 815.46 825.85 841.74 851.78 862.18 870.71 875.96 883.56 890.45 900.85 909.37 915.80 921.05 930.16 939.28 953.41 958.67 969.88 974.67 979.93 986.35 996.40 1001.65 1014.27 1024.31 1032.96 1038.21 1044.64 1055.04 1065.43 1075.83 1086.22 1092.18 1102.58 1112.97 1118.93 1129.33 1139.72 1149.77 1160.17 1170.56 1175.93 1186.33 1196.73 1207.82 1214.13 1219.39 1225.81 1236.21 1241.58 1251.98 1262.37 1267.51 1272.77 1282.82 1288.19 1298.59 1308.98" y="3038.87" font-size="18.29" fill="#000">What Can Humans Trust LLM AI to Do? (2026-01-19T01:10Z) (h:99, a:51)</text><text transform="scale(1.08653,1)" x="395.64 408.41 418.65 427.05 437.06 443.84 453.39 463.40 473.75 478.93 492.85 502.75 513.10 523.11 527.60 532.77 543.01 549.34 559.23 569.47 573.96 578.45 582.93 589.26 597.66 602.95 608.13 618.25 627.80 632.29 642.64 652.65 662.89 671.75 681.76 686.93 692.57 702.46 709.25 714.43 726.85 733.64 738.13 743.54 749.86 755.73 760.45 776.09 791.74 801.98 812.22 822.23 827.40 837.53 853.17 863.41 873.42 883.77 894.13 904.14 914.49 919.67 932.09 941.99 951.54 961.55 968.10 978.34 988.24 998.47 1007.33 1017.34 1022.52 1028.85 1039.09 1049.32 1059.56 1069.80 1075.67 1085.91 1096.15 1102.01 1112.25 1122.49 1132.39 1142.63 1152.86 1158.16 1168.40 1178.63 1189.56 1195.78 1200.95 1207.28 1217.52 1222.81 1233.05 1243.29 1248.35 1253.53 1263.42 1268.71 1278.95 1289.19" y="3105.20" font-size="18.29" fill="#000">Observed Model Stability: Evidence for Drift-Immune Embedded Governance (2026-01-20T08:15Z) (h:47, a:18)</text><text transform="scale(1.08975,1)" x="408.35 418.56 428.42 437.26 441.73 451.59 456.07 461.23 471.78 481.76 486.23 490.71 500.57 510.78 519.61 529.59 534.76 544.62 554.83 565.15 570.31 580.06 584.54 594.40 600.71 606.33 616.20 622.73 638.33 644.18 648.89 659.10 669.42 679.63 688.46 698.44 708.76 713.92 724.94 735.14 741.45 751.66 761.53 768.29 772.77 779.08 788.60 793.76 798.46 808.67 818.19 828.17 834.94 843.31 847.79 857.65 867.86 873.02 877.49 887.70 892.86 904.11 913.97 924.18 933.70 943.68 950.45 958.82 968.68 974.99 979.47 989.33 999.54 1009.40 1013.88 1019.04 1030.05 1034.75 1039.92 1046.23 1056.43 1066.64 1076.85 1087.06 1092.91 1103.12 1113.33 1119.18 1129.39 1139.60 1149.46 1159.67 1169.88 1175.15 1185.36 1195.57 1206.47 1212.66 1217.82 1224.13 1234.34 1239.62 1249.83 1254.87 1260.04 1269.90 1275.18 1285.39" y="3171.53" font-size="18.29" fill="#000">Social Reliance and Platform-Induced Authority Inversion in Conversational AI (2026-01-20T11:42Z) (h:5, a:2)</text><text transform="scale(1.07655,1)" x="737.66 750.20 760.19 769.82 779.93 786.54 796.88 806.86 817.20 826.14 836.24 841.46 849.24 859.23 863.76 868.29 878.62 885.12 895.22 900.45 911.60 920.77 930.87 939.35 944.57 951.89 961.87 971.05 981.03 991.37 1001.35 1017.14 1026.78 1032.00 1038.39 1048.72 1059.06 1069.39 1079.73 1085.65 1095.98 1106.32 1112.24 1122.57 1132.91 1142.89 1153.23 1163.56 1168.90 1179.24 1189.57 1200.60 1206.87 1212.09 1218.48 1228.81 1234.16 1244.49 1254.82 1259.93 1265.16 1275.14 1280.48 1290.82 1301.15" y="3237.86" font-size="18.29" fill="#000">Governance Failure Axes Taxonomy (2026-01-24T10:37Z) (h:29, a:12)</text><text transform="scale(1.08904,1)" x="94.35 110.19 120.40 130.39 140.60 145.77 155.87 165.40 169.87 180.20 190.19 200.41 209.24 219.23 224.39 229.10 237.48 242.64 254.70 264.57 270.88 276.04 286.15 296.36 306.23 316.45 326.78 336.99 342.27 347.44 358.46 368.67 373.84 383.94 399.55 409.76 414.24 421.01 425.49 434.33 444.20 448.67 453.84 464.05 470.37 480.58 490.91 500.44 505.60 515.48 521.10 526.26 537.28 547.50 553.81 564.03 573.90 580.67 585.15 591.46 600.99 606.15 610.86 621.07 630.60 640.58 647.36 655.74 660.21 670.08 680.30 685.46 695.33 705.55 715.88 721.05 725.75 735.97 742.28 752.27 762.60 769.37 773.84 780.16 789.68 794.85 802.54 812.41 816.89 821.36 831.58 838.01 847.99 853.16 857.63 867.85 873.01 884.26 894.13 904.35 913.87 923.86 930.63 939.01 948.88 955.20 959.67 969.54 979.76 989.63 994.11 999.27 1010.29 1015.00 1020.16 1026.47 1036.69 1046.90 1057.12 1067.34 1073.19 1083.40 1093.62 1099.47 1109.69 1119.90 1129.78 1139.99 1150.21 1155.49 1165.70 1175.92 1186.82 1193.02 1198.18 1204.50 1214.71 1219.99 1230.21 1240.42 1245.47 1250.64 1260.51 1265.79 1276.00 1286.22" y="3304.19" font-size="18.29" fill="#000">When Evidence Is Not Enough: An Empirical Study of Authority Inversion and Integrity Failure in Conversational AI (2026-01-24T13:40Z) (h:31, a:26)</text><text transform="scale(1.08267,1)" x="808.07 819.39 833.36 839.25 854.95 864.88 873.31 879.66 889.70 895.47 901.36 911.64 916.72 926.99 937.27 942.47 948.82 958.74 969.02 977.91 988.19 998.11 1004.58 1014.63 1025.02 1031.25 1036.45 1042.80 1053.07 1063.35 1073.62 1083.90 1089.79 1100.06 1110.34 1116.23 1126.50 1136.78 1146.71 1156.98 1167.26 1172.57 1182.84 1193.12 1204.09 1210.32 1215.52 1221.87 1232.14 1237.45 1247.73 1258.01 1263.09 1268.28 1278.21 1283.52 1293.80" y="3370.52" font-size="18.29" fill="#000">CM-master-1.16 (anchored) (2026-01-27T03:55Z) (h:34, a:3)</text><text transform="scale(1.07756,1)" x="717.83 733.83 744.16 753.79 759.01 773.04 783.02 791.95 802.28 806.80 817.12 827.22 835.68 840.90 852.27 862.25 872.57 882.90 892.87 899.25 904.47 917.35 930.69 941.02 946.24 956.91 967.23 977.21 990.55 995.07 1005.16 1015.60 1026.05 1036.14 1041.36 1047.74 1058.06 1068.39 1078.71 1089.03 1094.95 1105.28 1115.60 1121.52 1131.84 1142.16 1152.14 1162.46 1172.79 1178.12 1188.45 1198.77 1209.79 1216.06 1221.28 1227.66 1237.98 1243.32 1253.64 1263.97 1269.07 1274.29 1284.27 1289.60 1299.93" y="3436.85" font-size="18.29" fill="#000">Why Machines Cannot Own Knowledge (2026-01-27T19:12Z) (h:31, a:2)</text><text transform="scale(1.07679,1)" x="814.11 823.74 834.07 844.41 848.93 853.46 862.40 872.38 878.77 883.30 893.28 903.61 912.08 917.31 928.22 937.16 946.10 956.20 964.67 973.15 978.37 990.91 997.76 1007.74 1018.07 1028.40 1036.88 1042.10 1048.48 1058.82 1069.15 1079.48 1089.81 1095.73 1106.06 1116.39 1122.32 1132.65 1142.98 1152.96 1163.29 1173.63 1178.96 1189.30 1199.63 1210.66 1216.92 1222.15 1228.53 1238.87 1244.21 1254.54 1264.87 1269.98 1275.20 1285.18 1290.52 1300.85" y="3503.18" font-size="18.29" fill="#000">Publications Access Graphs (2026-01-30T01:55Z) (h:49, a:4)</text><text transform="scale(1.08542,1)" x="814.89 826.18 840.12 845.30 851.75 861.77 867.41 877.43 883.88 893.90 904.15 913.01 923.03 933.40 938.58 948.94 958.85 967.72 977.97 993.63 1003.65 1013.90 1020.23 1028.64 1033.82 1040.15 1050.40 1060.65 1070.90 1081.15 1087.03 1097.27 1107.52 1113.40 1123.65 1133.90 1143.80 1154.05 1164.30 1169.60 1179.85 1190.10 1201.04 1207.26 1212.44 1218.77 1229.02 1234.32 1244.57 1254.82 1259.89 1265.07 1274.97 1280.27 1290.52" y="3569.51" font-size="18.29" fill="#000">CM referenced documents (2026-01-30T04:05Z) (h:22, a:1)</text><text transform="scale(1.08084,1)" x="308.44 319.08 329.02 335.39 341.75 351.81 362.10 367.31 373.67 383.61 388.82 395.18 405.47 415.53 420.74 432.07 442.02 448.49 458.55 463.87 469.08 476.83 486.77 491.28 499.72 509.79 514.99 524.01 528.52 538.12 548.18 558.48 568.54 576.98 585.42 590.63 600.57 610.86 621.27 626.48 638.97 649.03 657.93 668.00 678.29 684.65 689.16 698.76 708.82 714.02 725.13 735.42 741.78 752.07 762.02 768.84 773.35 779.71 789.31 794.52 799.03 809.32 814.52 825.86 836.15 846.10 852.46 864.95 874.78 884.72 889.93 901.26 911.21 921.50 931.10 941.16 947.99 956.43 966.37 972.73 977.24 987.19 997.48 1007.43 1011.94 1017.14 1028.25 1032.99 1038.19 1044.55 1054.85 1065.14 1075.43 1085.72 1091.62 1101.92 1112.21 1118.11 1128.40 1138.69 1148.64 1158.93 1169.22 1174.54 1184.84 1195.13 1206.12 1212.36 1217.57 1223.93 1234.22 1239.54 1249.83 1260.13 1265.21 1270.42 1280.36 1285.68 1295.98" y="3635.84" font-size="18.29" fill="#000">Rotten to the Core: False Liveness and Deceptive Authority in ChatGPT Conversational AI (2026-02-03T00:57Z) (h:14, a:3)</text><text transform="scale(1.08129,1)" x="228.43 238.72 248.31 256.75 263.11 273.17 288.89 293.40 302.30 307.50 318.72 328.77 339.06 349.00 358.60 363.11 373.05 383.34 390.16 400.10 404.61 409.81 417.33 424.15 434.09 438.60 444.95 453.39 458.60 463.10 473.39 478.59 489.92 499.87 510.15 519.75 529.81 536.63 545.07 555.01 561.37 565.87 575.82 586.10 596.05 600.56 605.76 616.86 621.59 626.91 632.11 643.21 648.41 655.93 662.75 672.69 677.20 683.56 689.45 698.24 708.30 717.89 727.95 732.46 737.66 748.99 753.50 763.44 771.88 780.32 784.83 790.49 795.00 803.90 813.84 820.20 824.71 834.65 844.94 850.14 861.93 870.37 874.88 885.17 895.57 900.78 913.26 923.20 932.80 942.85 949.44 959.73 969.67 979.96 988.86 998.92 1004.12 1015.22 1024.35 1034.41 1042.85 1048.05 1054.41 1064.70 1074.99 1085.28 1095.57 1101.46 1111.75 1122.04 1127.93 1138.22 1148.51 1158.45 1168.74 1179.03 1184.35 1194.64 1204.93 1215.91 1222.15 1227.35 1233.71 1244.00 1249.32 1259.61 1264.69 1269.89 1279.84 1285.15 1295.44" y="3702.17" font-size="18.29" fill="#000">Systemic Behavioural Traits in Conversational AI: A Trait-Level Classification Using Governance Axes (2026-02-03T05:14Z) (h:9, a:1)</text><text transform="scale(1.07886,1)" x="931.65 939.99 950.31 956.68 966.99 973.48 983.56 988.77 995.96 1006.04 1016.35 1024.81 1034.89 1040.10 1046.47 1056.78 1067.10 1077.41 1087.72 1093.63 1103.94 1114.25 1120.16 1130.47 1140.78 1150.75 1161.06 1171.37 1176.70 1187.01 1197.32 1208.33 1214.59 1219.80 1226.17 1236.49 1241.82 1252.13 1262.44 1267.54 1272.75 1282.72 1288.05 1298.36" y="3768.50" font-size="18.29" fill="#000">Future Tense (2026-02-06T16:33Z) (h:16, a:4)</text><text transform="scale(1.09114,1)" x="788.85 800.08 813.94 819.78 829.98 835.13 847.16 857.01 863.54 879.12 888.98 895.28 899.74 909.25 919.22 924.37 935.37 941.79 950.61 960.80 965.27 971.57 981.54 990.36 996.66 1006.86 1013.27 1023.24 1028.39 1034.69 1044.89 1055.09 1065.28 1075.48 1081.32 1091.52 1101.71 1107.55 1117.75 1127.95 1137.80 1147.99 1158.19 1163.46 1173.65 1183.85 1194.73 1200.92 1206.07 1212.38 1222.57 1227.84 1238.04 1248.23 1253.27 1258.43 1268.28 1273.55 1283.75" y="3834.83" font-size="18.29" fill="#000">CM-2 Normative Architecture (2026-02-14T03:14Z) (h:44, a:1)</text><text transform="scale(1.07929,1)" x="669.07 681.58 691.54 701.15 711.23 717.83 728.14 738.10 748.41 757.33 767.40 772.61 783.73 792.88 802.96 811.41 816.62 826.58 835.04 840.25 850.21 855.42 869.44 879.74 884.26 890.63 895.15 901.05 913.56 918.08 933.83 943.91 954.21 962.67 967.19 977.15 987.45 997.41 1001.93 1007.14 1015.94 1026.02 1036.33 1044.78 1049.99 1056.36 1066.67 1076.98 1087.29 1097.60 1103.50 1113.81 1124.12 1130.02 1140.33 1150.64 1160.60 1170.91 1181.21 1186.54 1196.85 1207.16 1218.16 1224.41 1229.63 1236.00 1246.30 1251.63 1261.94 1267.04 1272.25 1282.21 1287.53 1297.84" y="3901.16" font-size="18.29" fill="#000">Governance Axes as a Multi-Dimensional Lens (2026-02-15T08:38Z) (h:6, a:2)</text><text transform="scale(1.09481,1)" x="659.70 670.89 681.05 690.87 697.15 709.48 719.64 725.92 731.17 736.31 746.36 761.89 771.82 778.33 788.60 798.54 808.70 814.98 820.12 831.08 841.35 851.29 861.45 867.73 872.18 880.97 886.11 890.79 900.95 907.23 917.16 923.67 930.07 939.89 950.16 959.98 966.26 970.71 980.19 990.12 995.26 1002.68 1009.42 1019.24 1023.69 1029.97 1035.11 1041.39 1051.55 1061.71 1071.87 1082.03 1087.86 1098.02 1108.18 1114.00 1124.16 1134.32 1144.14 1154.31 1164.47 1169.72 1179.88 1190.04 1200.89 1207.05 1212.19 1218.47 1228.63 1233.88 1244.05 1249.07 1254.21 1264.03 1269.28 1279.44" y="3967.49" font-size="18.29" fill="#000">ChatGpt: Emergent Agentic Interrogative Trait (2026-02-16T23:45Z) (h:7, a:1)</text><text transform="scale(1.08697,1)" x="254.15 264.38 274.39 280.83 290.83 301.07 311.42 315.90 326.14 330.62 336.95 346.84 357.07 365.47 370.64 380.88 390.88 395.37 400.08 405.95 418.02 427.91 436.31 442.63 447.11 457.35 467.70 472.99 478.16 494.03 504.27 514.27 524.51 529.68 536.01 546.24 556.25 561.42 572.69 586.61 592.47 602.71 607.88 619.96 629.85 636.40 652.04 661.93 668.26 672.74 682.29 692.29 697.47 708.51 714.95 723.80 734.04 738.52 744.85 754.85 763.71 770.03 780.27 786.71 796.71 801.89 813.62 823.85 833.63 843.17 853.41 863.41 872.27 878.59 888.59 898.94 903.43 912.97 918.15 930.22 940.23 944.71 955.06 960.24 964.72 974.96 980.13 992.55 1002.56 1018.20 1022.68 1032.92 1037.40 1042.58 1048.90 1059.14 1069.37 1079.61 1089.84 1095.71 1105.94 1116.18 1122.04 1132.28 1142.51 1152.40 1162.64 1172.87 1178.16 1188.40 1198.63 1209.56 1215.77 1220.94 1227.27 1237.50 1242.79 1253.03 1258.09 1263.26 1273.15 1278.44 1288.68" y="4033.82" font-size="18.29" fill="#000">Serendipitous Self-Hosting: When the CM-2 Normative Architecture Unexpectedly Held in Gemini (2026-02-18T04:46Z) (h:8, a:0)</text><text transform="scale(1.08049,1)" x="363.38 373.67 383.74 388.25 392.99 398.89 411.04 420.99 429.43 435.80 440.31 450.60 461.02 466.22 477.44 487.39 497.34 503.70 512.15 518.51 525.34 535.29 545.58 550.79 560.74 566.41 571.61 582.95 596.95 602.85 613.15 618.35 622.86 633.16 638.37 650.86 660.92 676.66 681.17 691.47 695.98 701.18 711.48 721.54 731.49 737.97 746.88 757.18 762.38 771.41 780.43 794.43 799.75 804.96 817.10 827.05 833.65 849.38 859.33 865.69 870.20 879.81 889.87 895.08 905.26 914.86 919.37 928.28 934.64 939.15 949.10 959.40 964.60 977.10 987.16 993.53 1003.59 1012.50 1018.86 1023.37 1033.32 1043.62 1048.83 1055.19 1065.48 1075.78 1086.08 1096.37 1102.27 1112.57 1122.87 1128.77 1139.06 1149.36 1159.31 1169.60 1179.90 1185.22 1195.52 1205.81 1216.80 1223.05 1228.26 1234.62 1244.92 1250.24 1260.53 1265.62 1270.83 1280.78 1286.10 1296.40" y="4100.15" font-size="18.29" fill="#000">Self-Hosting Bootstrap of CM-2 in Gemini Search LLM: Normative Eviction Detection (2026-02-20T10:09Z) (h:5, a:0)</text><text transform="scale(1.08327,1)" x="303.13 310.29 320.33 324.83 334.86 350.56 360.60 366.94 373.75 383.10 388.98 393.71 403.98 414.37 424.64 433.52 443.56 453.95 459.14 470.45 480.37 490.64 499.07 505.41 512.22 522.14 526.64 536.91 543.26 548.45 558.72 568.65 573.15 577.65 587.69 597.96 606.84 616.88 622.19 627.38 638.46 648.73 653.92 664.07 679.77 690.04 694.54 701.35 705.85 714.73 724.65 729.16 734.35 744.62 750.96 761.23 771.62 781.20 786.39 790.89 801.16 806.35 815.35 824.35 838.31 843.51 854.70 864.74 875.01 884.93 894.51 899.01 908.93 919.20 926.01 935.94 940.44 945.63 956.94 966.86 982.55 992.82 997.32 1001.82 1011.75 1022.02 1030.90 1040.94 1046.13 1052.48 1062.75 1073.02 1083.29 1093.56 1099.44 1109.71 1119.98 1125.87 1136.14 1146.41 1156.33 1166.60 1176.87 1182.18 1192.45 1202.72 1213.68 1219.91 1225.11 1231.45 1241.72 1247.03 1257.30 1262.38 1267.57 1277.49 1282.80 1293.07" y="4166.48" font-size="18.29" fill="#000">Telemetry-Induced Constraint Salience: An Empirical Study in LLM Behavioural Compliance (2026-02-23T08:35Z) (h:7, a:2)</text><text transform="scale(1.08419,1)" x="402.49 409.98 416.79 426.70 436.96 445.38 454.26 461.06 465.56 475.82 482.16 487.35 497.26 502.91 508.10 518.01 523.20 533.46 543.49 551.91 560.33 564.82 574.74 585.00 590.19 603.45 607.94 614.28 624.55 629.73 642.19 652.22 667.90 672.39 682.65 687.15 692.34 702.60 712.63 722.55 729.00 737.88 748.14 753.33 759.21 764.40 774.31 784.57 794.95 800.14 804.87 810.05 815.70 825.73 835.76 840.26 845.45 849.94 854.44 863.32 873.35 878.54 889.61 894.10 898.60 907.48 917.51 922.70 927.19 937.45 942.64 957.63 967.54 977.81 988.18 998.21 1005.01 1009.51 1019.43 1029.69 1040.06 1045.25 1051.59 1061.85 1072.12 1082.38 1092.64 1098.52 1108.78 1119.04 1124.92 1135.18 1145.44 1155.36 1165.62 1175.88 1181.18 1191.44 1201.71 1212.66 1218.88 1224.07 1230.41 1240.68 1245.98 1256.24 1261.31 1266.50 1276.42 1281.72 1291.98" y="4232.81" font-size="18.29" fill="#000">Transcript of a Session with Gemini Search - and I feel like Alice in Wonderland (2026-02-24T07:06Z) (h:2, a:0)</text><text transform="scale(1.06713,1)" x="1378.35 1399.67 1417.47 1444.88 1462.10 1479.91 1488.81 1505.44 1520.08 1528.99 1548.31 1565.53 1576.54 1591.19 1600.09 1615.78 1623.75 1633.71 1651.04 1666.50 1683.14 1698.60 1706.57 1723.90 1732.80 1754.59 1766.31 1783.52 1801.45 1819.25 1827.22 1844.55 1855.56 1870.21 1879.11 1890.12 1904.76 1926.78 1948.57 1957.47 1965.44 1983.24 1994.25 2012.18 2035.60 2052.24 2063.13 2072.03 2095.46 2104.36 2128.61 2147.82 2158.83 2176.87 2194.79 2203.69 2219.16 2236.49 2254.30 2265.31 2282.64 2293.77 2311.11 2329.03 2338.52 2347.42 2371.67 2390.88 2405.05 2424.38 2445.00 2464.56 2483.06 2500.87 2517.97 2541.40 2559.32 2577.24 2595.16 2606.06" y="185.00" font-size="31.35" fill="#000">Human vs Bots Lifecycle Graphlets (LOG ln(1+x) + MA(7d centered; MA_BUCKET=169);</text><text transform="scale(1.02072,1)" x="1763.35 1786.13 1801.43 1824.46 1844.66 1864.75 1881.16 1895.97 1921.32 1941.41 1961.49 1976.31 1991.62 2014.64 2037.42 2061.91 2080.65 2090.08 2108.82 2127.55 2146.29 2165.03 2183.76 2202.50 2212.42 2221.73 2244.02 2258.83 2278.92 2304.27 2322.02 2346.52 2365.25 2383.99 2393.42" y="219.20" font-size="31.35" fill="#000">GLOBAL_MAX_LOG=3.550943; H_AMP=40.0</text><text transform="scale(1.07999,1)" x="1766.28 1784.22 1798.34 1812.00 1824.15 1831.56 1840.70 1854.94 1861.42 1875.54 1884.57 1891.05 1904.71 1918.94 1926.35 1935.38 1949.50 1956.91 1971.61 1986.31 2001.01 2007.49 2013.97 2026.70 2040.82 2049.85 2056.33 2070.45 2085.15 2092.56 2101.59 2118.48 2131.33 2147.42 2155.17 2171.03" y="4487.50" font-size="26.12" fill="#000">Days relative to publication (UTC/Z)</text></svg></body></html>
